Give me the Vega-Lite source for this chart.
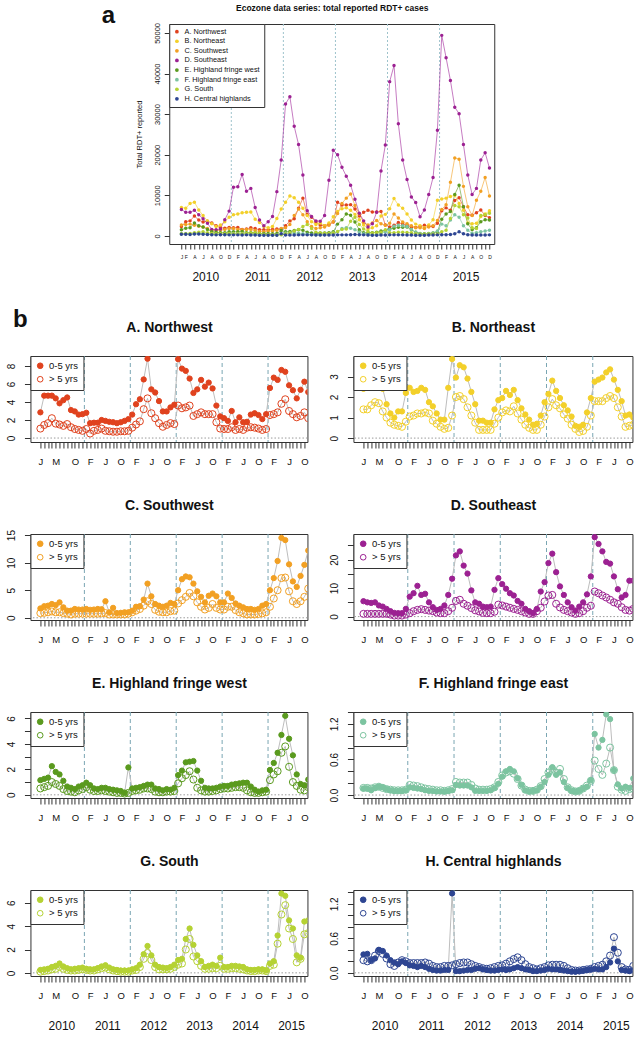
{
"$schema": "https://vega.github.io/schema/vega-lite/v6.json",
"background": "white",
"padding": {"left": 5, "top": 2, "right": 0, "bottom": 0},
"center": true,
"bounds": "full",
"spacing": 23,
"resolve": {"scale": {"x": "independent", "y": "independent", "color": "independent", "fill": "independent", "size": "independent", "stroke": "independent"}, "legend": {"color": "independent", "fill": "independent"}},
"config": {
 "font": "Liberation Sans",
 "view": {"stroke": "#333", "strokeWidth": 1},
 "axis": {"grid": false, "domain": false, "tickColor": "#333", "labelColor": "#111", "titleColor": "#111", "titleFontWeight": "normal", "labelFont": "Liberation Sans", "titleFont": "Liberation Sans"},
 "legend": {"labelFont": "Liberation Sans", "labelColor": "#111"}
},
"datasets": {
"top": [
{"z":"A","i":0,"v":2300},{"z":"A","i":1,"v":3500},{"z":"A","i":2,"v":3700},{"z":"A","i":3,"v":4900},{"z":"A","i":4,"v":3900},{"z":"A","i":5,"v":3400},{"z":"A","i":6,"v":3600},{"z":"A","i":7,"v":3200},{"z":"A","i":8,"v":2500},{"z":"A","i":9,"v":2000},{"z":"A","i":10,"v":1900},{"z":"A","i":11,"v":2100},
{"z":"A","i":12,"v":2000},{"z":"A","i":13,"v":2100},{"z":"A","i":14,"v":1600},{"z":"A","i":15,"v":1700},{"z":"A","i":16,"v":2000},{"z":"A","i":17,"v":1800},{"z":"A","i":18,"v":1500},{"z":"A","i":19,"v":1500},{"z":"A","i":20,"v":1500},{"z":"A","i":21,"v":1600},{"z":"A","i":22,"v":1700},{"z":"A","i":23,"v":1700},
{"z":"A","i":24,"v":2500},{"z":"A","i":25,"v":3700},{"z":"A","i":26,"v":4200},{"z":"A","i":27,"v":6800},{"z":"A","i":28,"v":9300},{"z":"A","i":29,"v":5300},{"z":"A","i":30,"v":4600},{"z":"A","i":31,"v":3400},{"z":"A","i":32,"v":2600},{"z":"A","i":33,"v":2500},{"z":"A","i":34,"v":2800},{"z":"A","i":35,"v":3400},
{"z":"A","i":36,"v":8300},{"z":"A","i":37,"v":7600},{"z":"A","i":38,"v":7600},{"z":"A","i":39,"v":7700},{"z":"A","i":40,"v":6600},{"z":"A","i":41,"v":4900},{"z":"A","i":42,"v":5800},{"z":"A","i":43,"v":6300},{"z":"A","i":44,"v":5900},{"z":"A","i":45,"v":5900},{"z":"A","i":46,"v":6000},{"z":"A","i":47,"v":2700},
{"z":"A","i":48,"v":2200},{"z":"A","i":49,"v":2600},{"z":"A","i":50,"v":3300},{"z":"A","i":51,"v":2900},{"z":"A","i":52,"v":2600},{"z":"A","i":53,"v":2200},{"z":"A","i":54,"v":2100},{"z":"A","i":55,"v":2300},{"z":"A","i":56,"v":2600},{"z":"A","i":57,"v":2400},{"z":"A","i":58,"v":2300},{"z":"A","i":59,"v":3100},
{"z":"A","i":60,"v":6200},{"z":"A","i":61,"v":6900},{"z":"A","i":62,"v":6300},{"z":"A","i":63,"v":8700},{"z":"A","i":64,"v":9400},{"z":"A","i":65,"v":7200},{"z":"A","i":66,"v":5200},{"z":"A","i":67,"v":5100},{"z":"A","i":68,"v":5700},{"z":"A","i":69,"v":6400},{"z":"A","i":70,"v":5000},{"z":"A","i":71,"v":4500},
{"z":"B","i":0,"v":7000},{"z":"B","i":1,"v":6800},{"z":"B","i":2,"v":8000},{"z":"B","i":3,"v":8300},{"z":"B","i":4,"v":6400},{"z":"B","i":5,"v":5000},{"z":"B","i":6,"v":3700},{"z":"B","i":7,"v":3000},{"z":"B","i":8,"v":2300},{"z":"B","i":9,"v":2700},{"z":"B","i":10,"v":3500},{"z":"B","i":11,"v":4600},
{"z":"B","i":12,"v":5200},{"z":"B","i":13,"v":5400},{"z":"B","i":14,"v":5700},{"z":"B","i":15,"v":5800},{"z":"B","i":16,"v":5900},{"z":"B","i":17,"v":4100},{"z":"B","i":18,"v":3300},{"z":"B","i":19,"v":2300},{"z":"B","i":20,"v":2000},{"z":"B","i":21,"v":2300},{"z":"B","i":22,"v":4300},{"z":"B","i":23,"v":6600},
{"z":"B","i":24,"v":8300},{"z":"B","i":25,"v":9800},{"z":"B","i":26,"v":9400},{"z":"B","i":27,"v":8300},{"z":"B","i":28,"v":6800},{"z":"B","i":29,"v":5000},{"z":"B","i":30,"v":3500},{"z":"B","i":31,"v":2800},{"z":"B","i":32,"v":3200},{"z":"B","i":33,"v":2500},{"z":"B","i":34,"v":3200},{"z":"B","i":35,"v":4700},
{"z":"B","i":36,"v":6000},{"z":"B","i":37,"v":6700},{"z":"B","i":38,"v":6900},{"z":"B","i":39,"v":6300},{"z":"B","i":40,"v":5300},{"z":"B","i":41,"v":4000},{"z":"B","i":42,"v":2700},{"z":"B","i":43,"v":1700},{"z":"B","i":44,"v":2000},{"z":"B","i":45,"v":2500},{"z":"B","i":46,"v":4900},{"z":"B","i":47,"v":5300},
{"z":"B","i":48,"v":6700},{"z":"B","i":49,"v":9200},{"z":"B","i":50,"v":7600},{"z":"B","i":51,"v":6800},{"z":"B","i":52,"v":5400},{"z":"B","i":53,"v":3900},{"z":"B","i":54,"v":2900},{"z":"B","i":55,"v":2500},{"z":"B","i":56,"v":2000},{"z":"B","i":57,"v":2700},{"z":"B","i":58,"v":4000},{"z":"B","i":59,"v":8800},
{"z":"B","i":60,"v":9100},{"z":"B","i":61,"v":9300},{"z":"B","i":62,"v":9700},{"z":"B","i":63,"v":10000},{"z":"B","i":64,"v":8000},{"z":"B","i":65,"v":6300},{"z":"B","i":66,"v":3200},{"z":"B","i":67,"v":3000},{"z":"B","i":68,"v":3100},{"z":"B","i":69,"v":4800},{"z":"B","i":70,"v":5400},{"z":"B","i":71,"v":6200},
{"z":"C","i":0,"v":2700},{"z":"C","i":1,"v":2800},{"z":"C","i":2,"v":2900},{"z":"C","i":3,"v":2600},{"z":"C","i":4,"v":2400},{"z":"C","i":5,"v":2200},{"z":"C","i":6,"v":1800},{"z":"C","i":7,"v":1400},{"z":"C","i":8,"v":1400},{"z":"C","i":9,"v":1400},{"z":"C","i":10,"v":1600},{"z":"C","i":11,"v":1800},
{"z":"C","i":12,"v":1800},{"z":"C","i":13,"v":1600},{"z":"C","i":14,"v":1500},{"z":"C","i":15,"v":1600},{"z":"C","i":16,"v":1600},{"z":"C","i":17,"v":1300},{"z":"C","i":18,"v":1100},{"z":"C","i":19,"v":1000},{"z":"C","i":20,"v":1200},{"z":"C","i":21,"v":1200},{"z":"C","i":22,"v":1400},{"z":"C","i":23,"v":1800},
{"z":"C","i":24,"v":2000},{"z":"C","i":25,"v":2800},{"z":"C","i":26,"v":5000},{"z":"C","i":27,"v":6600},{"z":"C","i":28,"v":5200},{"z":"C","i":29,"v":3500},{"z":"C","i":30,"v":2300},{"z":"C","i":31,"v":1800},{"z":"C","i":32,"v":2000},{"z":"C","i":33,"v":2200},{"z":"C","i":34,"v":2600},{"z":"C","i":35,"v":3500},
{"z":"C","i":36,"v":5500},{"z":"C","i":37,"v":8000},{"z":"C","i":38,"v":9300},{"z":"C","i":39,"v":10300},{"z":"C","i":40,"v":7500},{"z":"C","i":41,"v":5400},{"z":"C","i":42,"v":3300},{"z":"C","i":43,"v":2700},{"z":"C","i":44,"v":3200},{"z":"C","i":45,"v":3800},{"z":"C","i":46,"v":3000},{"z":"C","i":47,"v":2600},
{"z":"C","i":48,"v":3100},{"z":"C","i":49,"v":5400},{"z":"C","i":50,"v":4400},{"z":"C","i":51,"v":3400},{"z":"C","i":52,"v":3000},{"z":"C","i":53,"v":2500},{"z":"C","i":54,"v":2000},{"z":"C","i":55,"v":2000},{"z":"C","i":56,"v":1800},{"z":"C","i":57,"v":2200},{"z":"C","i":58,"v":2500},{"z":"C","i":59,"v":3800},
{"z":"C","i":60,"v":6500},{"z":"C","i":61,"v":7700},{"z":"C","i":62,"v":13200},{"z":"C","i":63,"v":19200},{"z":"C","i":64,"v":18900},{"z":"C","i":65,"v":12200},{"z":"C","i":66,"v":7200},{"z":"C","i":67,"v":5000},{"z":"C","i":68,"v":8800},{"z":"C","i":69,"v":11000},{"z":"C","i":70,"v":14400},{"z":"C","i":71,"v":9800},
{"z":"D","i":0,"v":6500},{"z":"D","i":1,"v":5800},{"z":"D","i":2,"v":5800},{"z":"D","i":3,"v":6300},{"z":"D","i":4,"v":5200},{"z":"D","i":5,"v":4200},{"z":"D","i":6,"v":3100},{"z":"D","i":7,"v":1600},{"z":"D","i":8,"v":1500},{"z":"D","i":9,"v":1700},{"z":"D","i":10,"v":4000},{"z":"D","i":11,"v":6100},
{"z":"D","i":12,"v":12000},{"z":"D","i":13,"v":12100},{"z":"D","i":14,"v":15100},{"z":"D","i":15,"v":11000},{"z":"D","i":16,"v":11700},{"z":"D","i":17,"v":7000},{"z":"D","i":18,"v":3900},{"z":"D","i":19,"v":2500},{"z":"D","i":20,"v":3500},{"z":"D","i":21,"v":4800},{"z":"D","i":22,"v":10900},{"z":"D","i":23,"v":18700},
{"z":"D","i":24,"v":32500},{"z":"D","i":25,"v":34300},{"z":"D","i":26,"v":27000},{"z":"D","i":27,"v":22500},{"z":"D","i":28,"v":15000},{"z":"D","i":29,"v":6200},{"z":"D","i":30,"v":4800},{"z":"D","i":31,"v":3700},{"z":"D","i":32,"v":3600},{"z":"D","i":33,"v":5000},{"z":"D","i":34,"v":13700},{"z":"D","i":35,"v":21100},
{"z":"D","i":36,"v":20000},{"z":"D","i":37,"v":16900},{"z":"D","i":38,"v":14700},{"z":"D","i":39,"v":12500},{"z":"D","i":40,"v":9000},{"z":"D","i":41,"v":5600},{"z":"D","i":42,"v":3700},{"z":"D","i":43,"v":2200},{"z":"D","i":44,"v":3000},{"z":"D","i":45,"v":5800},{"z":"D","i":46,"v":16000},{"z":"D","i":47,"v":22400},
{"z":"D","i":48,"v":38000},{"z":"D","i":49,"v":42000},{"z":"D","i":50,"v":27600},{"z":"D","i":51,"v":18700},{"z":"D","i":52,"v":13900},{"z":"D","i":53,"v":9600},{"z":"D","i":54,"v":8200},{"z":"D","i":55,"v":4700},{"z":"D","i":56,"v":6400},{"z":"D","i":57,"v":10200},{"z":"D","i":58,"v":14400},{"z":"D","i":59,"v":26000},
{"z":"D","i":60,"v":49400},{"z":"D","i":61,"v":43900},{"z":"D","i":62,"v":38300},{"z":"D","i":63,"v":31700},{"z":"D","i":64,"v":30100},{"z":"D","i":65,"v":22500},{"z":"D","i":66,"v":15000},{"z":"D","i":67,"v":10200},{"z":"D","i":68,"v":11700},{"z":"D","i":69,"v":18700},{"z":"D","i":70,"v":20500},{"z":"D","i":71,"v":16700},
{"z":"E","i":0,"v":1500},{"z":"E","i":1,"v":1900},{"z":"E","i":2,"v":2000},{"z":"E","i":3,"v":3200},{"z":"E","i":4,"v":2500},{"z":"E","i":5,"v":2200},{"z":"E","i":6,"v":1600},{"z":"E","i":7,"v":1000},{"z":"E","i":8,"v":900},{"z":"E","i":9,"v":800},{"z":"E","i":10,"v":800},{"z":"E","i":11,"v":1000},
{"z":"E","i":12,"v":1000},{"z":"E","i":13,"v":1000},{"z":"E","i":14,"v":1100},{"z":"E","i":15,"v":800},{"z":"E","i":16,"v":800},{"z":"E","i":17,"v":700},{"z":"E","i":18,"v":600},{"z":"E","i":19,"v":600},{"z":"E","i":20,"v":600},{"z":"E","i":21,"v":500},{"z":"E","i":22,"v":600},{"z":"E","i":23,"v":1300},
{"z":"E","i":24,"v":1000},{"z":"E","i":25,"v":1100},{"z":"E","i":26,"v":1300},{"z":"E","i":27,"v":1500},{"z":"E","i":28,"v":1400},{"z":"E","i":29,"v":900},{"z":"E","i":30,"v":700},{"z":"E","i":31,"v":600},{"z":"E","i":32,"v":700},{"z":"E","i":33,"v":700},{"z":"E","i":34,"v":800},{"z":"E","i":35,"v":1000},
{"z":"E","i":36,"v":2900},{"z":"E","i":37,"v":4000},{"z":"E","i":38,"v":5400},{"z":"E","i":39,"v":5100},{"z":"E","i":40,"v":3400},{"z":"E","i":41,"v":1500},{"z":"E","i":42,"v":800},{"z":"E","i":43,"v":700},{"z":"E","i":44,"v":800},{"z":"E","i":45,"v":900},{"z":"E","i":46,"v":1200},{"z":"E","i":47,"v":1300},
{"z":"E","i":48,"v":1700},{"z":"E","i":49,"v":1900},{"z":"E","i":50,"v":2100},{"z":"E","i":51,"v":2100},{"z":"E","i":52,"v":2200},{"z":"E","i":53,"v":1500},{"z":"E","i":54,"v":900},{"z":"E","i":55,"v":600},{"z":"E","i":56,"v":500},{"z":"E","i":57,"v":600},{"z":"E","i":58,"v":700},{"z":"E","i":59,"v":1000},
{"z":"E","i":60,"v":4100},{"z":"E","i":61,"v":5400},{"z":"E","i":62,"v":6000},{"z":"E","i":63,"v":10200},{"z":"E","i":64,"v":12500},{"z":"E","i":65,"v":7200},{"z":"E","i":66,"v":3000},{"z":"E","i":67,"v":1500},{"z":"E","i":68,"v":2000},{"z":"E","i":69,"v":3500},{"z":"E","i":70,"v":4000},{"z":"E","i":71,"v":3900},
{"z":"F","i":0,"v":500},{"z":"F","i":1,"v":500},{"z":"F","i":2,"v":450},{"z":"F","i":3,"v":550},{"z":"F","i":4,"v":600},{"z":"F","i":5,"v":550},{"z":"F","i":6,"v":450},{"z":"F","i":7,"v":400},{"z":"F","i":8,"v":350},{"z":"F","i":9,"v":350},{"z":"F","i":10,"v":350},{"z":"F","i":11,"v":400},
{"z":"F","i":12,"v":600},{"z":"F","i":13,"v":550},{"z":"F","i":14,"v":500},{"z":"F","i":15,"v":450},{"z":"F","i":16,"v":400},{"z":"F","i":17,"v":350},{"z":"F","i":18,"v":300},{"z":"F","i":19,"v":300},{"z":"F","i":20,"v":300},{"z":"F","i":21,"v":300},{"z":"F","i":22,"v":300},{"z":"F","i":23,"v":350},
{"z":"F","i":24,"v":700},{"z":"F","i":25,"v":700},{"z":"F","i":26,"v":700},{"z":"F","i":27,"v":650},{"z":"F","i":28,"v":550},{"z":"F","i":29,"v":400},{"z":"F","i":30,"v":300},{"z":"F","i":31,"v":300},{"z":"F","i":32,"v":300},{"z":"F","i":33,"v":350},{"z":"F","i":34,"v":450},{"z":"F","i":35,"v":700},
{"z":"F","i":36,"v":1000},{"z":"F","i":37,"v":1800},{"z":"F","i":38,"v":2000},{"z":"F","i":39,"v":1900},{"z":"F","i":40,"v":1500},{"z":"F","i":41,"v":900},{"z":"F","i":42,"v":500},{"z":"F","i":43,"v":300},{"z":"F","i":44,"v":300},{"z":"F","i":45,"v":350},{"z":"F","i":46,"v":600},{"z":"F","i":47,"v":1000},
{"z":"F","i":48,"v":1500},{"z":"F","i":49,"v":2400},{"z":"F","i":50,"v":2600},{"z":"F","i":51,"v":2500},{"z":"F","i":52,"v":2300},{"z":"F","i":53,"v":1600},{"z":"F","i":54,"v":900},{"z":"F","i":55,"v":500},{"z":"F","i":56,"v":400},{"z":"F","i":57,"v":500},{"z":"F","i":58,"v":700},{"z":"F","i":59,"v":1200},
{"z":"F","i":60,"v":2900},{"z":"F","i":61,"v":2500},{"z":"F","i":62,"v":3900},{"z":"F","i":63,"v":5200},{"z":"F","i":64,"v":4600},{"z":"F","i":65,"v":2500},{"z":"F","i":66,"v":1400},{"z":"F","i":67,"v":600},{"z":"F","i":68,"v":800},{"z":"F","i":69,"v":1000},{"z":"F","i":70,"v":1200},{"z":"F","i":71,"v":1400},
{"z":"G","i":0,"v":500},{"z":"G","i":1,"v":550},{"z":"G","i":2,"v":600},{"z":"G","i":3,"v":800},{"z":"G","i":4,"v":900},{"z":"G","i":5,"v":1000},{"z":"G","i":6,"v":800},{"z":"G","i":7,"v":600},{"z":"G","i":8,"v":500},{"z":"G","i":9,"v":500},{"z":"G","i":10,"v":550},{"z":"G","i":11,"v":600},
{"z":"G","i":12,"v":550},{"z":"G","i":13,"v":500},{"z":"G","i":14,"v":500},{"z":"G","i":15,"v":600},{"z":"G","i":16,"v":700},{"z":"G","i":17,"v":800},{"z":"G","i":18,"v":600},{"z":"G","i":19,"v":400},{"z":"G","i":20,"v":350},{"z":"G","i":21,"v":300},{"z":"G","i":22,"v":300},{"z":"G","i":23,"v":300},
{"z":"G","i":24,"v":500},{"z":"G","i":25,"v":700},{"z":"G","i":26,"v":1200},{"z":"G","i":27,"v":1600},{"z":"G","i":28,"v":2300},{"z":"G","i":29,"v":2800},{"z":"G","i":30,"v":1800},{"z":"G","i":31,"v":900},{"z":"G","i":32,"v":700},{"z":"G","i":33,"v":650},{"z":"G","i":34,"v":600},{"z":"G","i":35,"v":700},
{"z":"G","i":36,"v":1100},{"z":"G","i":37,"v":1600},{"z":"G","i":38,"v":1700},{"z":"G","i":39,"v":3600},{"z":"G","i":40,"v":4600},{"z":"G","i":41,"v":2800},{"z":"G","i":42,"v":1700},{"z":"G","i":43,"v":1100},{"z":"G","i":44,"v":700},{"z":"G","i":45,"v":800},{"z":"G","i":46,"v":900},{"z":"G","i":47,"v":1500},
{"z":"G","i":48,"v":800},{"z":"G","i":49,"v":800},{"z":"G","i":50,"v":900},{"z":"G","i":51,"v":900},{"z":"G","i":52,"v":850},{"z":"G","i":53,"v":750},{"z":"G","i":54,"v":500},{"z":"G","i":55,"v":400},{"z":"G","i":56,"v":400},{"z":"G","i":57,"v":450},{"z":"G","i":58,"v":450},{"z":"G","i":59,"v":400},
{"z":"G","i":60,"v":1000},{"z":"G","i":61,"v":1400},{"z":"G","i":62,"v":4300},{"z":"G","i":63,"v":7500},{"z":"G","i":64,"v":7200},{"z":"G","i":65,"v":5200},{"z":"G","i":66,"v":4400},{"z":"G","i":67,"v":2000},{"z":"G","i":68,"v":1800},{"z":"G","i":69,"v":5000},{"z":"G","i":70,"v":5200},{"z":"G","i":71,"v":5600},
{"z":"H","i":0,"v":400},{"z":"H","i":1,"v":400},{"z":"H","i":2,"v":350},{"z":"H","i":3,"v":450},{"z":"H","i":4,"v":450},{"z":"H","i":5,"v":400},{"z":"H","i":6,"v":350},{"z":"H","i":7,"v":300},{"z":"H","i":8,"v":250},{"z":"H","i":9,"v":300},{"z":"H","i":10,"v":300},{"z":"H","i":11,"v":250},
{"z":"H","i":12,"v":250},{"z":"H","i":13,"v":250},{"z":"H","i":14,"v":200},{"z":"H","i":15,"v":250},{"z":"H","i":16,"v":200},{"z":"H","i":17,"v":200},{"z":"H","i":18,"v":150},{"z":"H","i":19,"v":150},{"z":"H","i":20,"v":150},{"z":"H","i":21,"v":150},{"z":"H","i":22,"v":150},{"z":"H","i":23,"v":500},
{"z":"H","i":24,"v":200},{"z":"H","i":25,"v":200},{"z":"H","i":26,"v":200},{"z":"H","i":27,"v":250},{"z":"H","i":28,"v":250},{"z":"H","i":29,"v":250},{"z":"H","i":30,"v":250},{"z":"H","i":31,"v":200},{"z":"H","i":32,"v":200},{"z":"H","i":33,"v":200},{"z":"H","i":34,"v":200},{"z":"H","i":35,"v":200},
{"z":"H","i":36,"v":250},{"z":"H","i":37,"v":250},{"z":"H","i":38,"v":250},{"z":"H","i":39,"v":300},{"z":"H","i":40,"v":350},{"z":"H","i":41,"v":300},{"z":"H","i":42,"v":250},{"z":"H","i":43,"v":200},{"z":"H","i":44,"v":150},{"z":"H","i":45,"v":150},{"z":"H","i":46,"v":200},{"z":"H","i":47,"v":200},
{"z":"H","i":48,"v":250},{"z":"H","i":49,"v":250},{"z":"H","i":50,"v":250},{"z":"H","i":51,"v":250},{"z":"H","i":52,"v":200},{"z":"H","i":53,"v":200},{"z":"H","i":54,"v":150},{"z":"H","i":55,"v":150},{"z":"H","i":56,"v":150},{"z":"H","i":57,"v":200},{"z":"H","i":58,"v":200},{"z":"H","i":59,"v":250},
{"z":"H","i":60,"v":300},{"z":"H","i":61,"v":300},{"z":"H","i":62,"v":350},{"z":"H","i":63,"v":500},{"z":"H","i":64,"v":1000},{"z":"H","i":65,"v":500},{"z":"H","i":66,"v":300},{"z":"H","i":67,"v":200},{"z":"H","i":68,"v":200},{"z":"H","i":69,"v":200},{"z":"H","i":70,"v":200},{"z":"H","i":71,"v":250}
],
"pA": [
{"g":"k","i":0,"v":2.85},{"g":"k","i":1,"v":4.7},{"g":"k","i":2,"v":4.7},{"g":"k","i":3,"v":4.7},{"g":"k","i":4,"v":4.4},{"g":"k","i":5,"v":3.85},{"g":"k","i":6,"v":4.2},{"g":"k","i":7,"v":4.5},{"g":"k","i":8,"v":3.1},{"g":"k","i":9,"v":2.95},{"g":"k","i":10,"v":2.6},{"g":"k","i":11,"v":2.65},
{"g":"k","i":12,"v":2.8},{"g":"k","i":13,"v":1.65},{"g":"k","i":14,"v":1.7},{"g":"k","i":15,"v":1.7},{"g":"k","i":16,"v":2.0},{"g":"k","i":17,"v":1.9},{"g":"k","i":18,"v":1.8},{"g":"k","i":19,"v":1.75},{"g":"k","i":20,"v":1.65},{"g":"k","i":21,"v":1.75},{"g":"k","i":22,"v":1.9},{"g":"k","i":23,"v":2.1},
{"g":"k","i":24,"v":2.6},{"g":"k","i":25,"v":3.75},{"g":"k","i":26,"v":4.3},{"g":"k","i":27,"v":6.5},{"g":"k","i":28,"v":8.8},{"g":"k","i":29,"v":5.4},{"g":"k","i":30,"v":5.05},{"g":"k","i":31,"v":4.1},{"g":"k","i":32,"v":2.95},{"g":"k","i":33,"v":2.95},{"g":"k","i":34,"v":3.4},{"g":"k","i":35,"v":3.7},
{"g":"k","i":36,"v":8.75},{"g":"k","i":37,"v":7.7},{"g":"k","i":38,"v":7.45},{"g":"k","i":39,"v":6.6},{"g":"k","i":40,"v":5.0},{"g":"k","i":41,"v":5.4},{"g":"k","i":42,"v":6.45},{"g":"k","i":43,"v":5.7},{"g":"k","i":44,"v":6.15},{"g":"k","i":45,"v":5.5},{"g":"k","i":46,"v":3.6},{"g":"k","i":47,"v":2.4},
{"g":"k","i":48,"v":2.2},{"g":"k","i":49,"v":1.9},{"g":"k","i":50,"v":3.0},{"g":"k","i":51,"v":1.75},{"g":"k","i":52,"v":2.3},{"g":"k","i":53,"v":1.75},{"g":"k","i":54,"v":1.8},{"g":"k","i":55,"v":2.6},{"g":"k","i":56,"v":2.75},{"g":"k","i":57,"v":2.55},{"g":"k","i":58,"v":2.1},{"g":"k","i":59,"v":2.65},
{"g":"k","i":60,"v":5.55},{"g":"k","i":61,"v":6.7},{"g":"k","i":62,"v":6.45},{"g":"k","i":63,"v":7.55},{"g":"k","i":64,"v":7.35},{"g":"k","i":65,"v":5.85},{"g":"k","i":66,"v":5.3},{"g":"k","i":67,"v":4.4},{"g":"k","i":68,"v":5.35},{"g":"k","i":69,"v":6.25},{"g":"k","i":70,"v":5.1},
{"g":"o","i":0,"v":1.05},{"g":"o","i":1,"v":1.45},{"g":"o","i":2,"v":1.65},{"g":"o","i":3,"v":2.2},{"g":"o","i":4,"v":1.6},{"g":"o","i":5,"v":1.5},{"g":"o","i":6,"v":1.35},{"g":"o","i":7,"v":1.55},{"g":"o","i":8,"v":1.2},{"g":"o","i":9,"v":1.0},{"g":"o","i":10,"v":0.9},{"g":"o","i":11,"v":0.8},
{"g":"o","i":12,"v":1.0},{"g":"o","i":13,"v":0.5},{"g":"o","i":14,"v":0.8},{"g":"o","i":15,"v":0.9},{"g":"o","i":16,"v":1.05},{"g":"o","i":17,"v":0.8},{"g":"o","i":18,"v":0.75},{"g":"o","i":19,"v":0.7},{"g":"o","i":20,"v":0.7},{"g":"o","i":21,"v":0.75},{"g":"o","i":22,"v":0.75},{"g":"o","i":23,"v":0.8},
{"g":"o","i":24,"v":1.15},{"g":"o","i":25,"v":1.5},{"g":"o","i":26,"v":1.85},{"g":"o","i":27,"v":3.2},{"g":"o","i":28,"v":4.4},{"g":"o","i":29,"v":2.75},{"g":"o","i":30,"v":2.2},{"g":"o","i":31,"v":1.65},{"g":"o","i":32,"v":1.25},{"g":"o","i":33,"v":1.45},{"g":"o","i":34,"v":1.65},{"g":"o","i":35,"v":1.55},
{"g":"o","i":36,"v":3.6},{"g":"o","i":37,"v":3.3},{"g":"o","i":38,"v":3.4},{"g":"o","i":39,"v":3.6},{"g":"o","i":40,"v":2.45},{"g":"o","i":41,"v":2.65},{"g":"o","i":42,"v":2.85},{"g":"o","i":43,"v":2.65},{"g":"o","i":44,"v":2.65},{"g":"o","i":45,"v":2.65},{"g":"o","i":46,"v":1.75},{"g":"o","i":47,"v":1.05},
{"g":"o","i":48,"v":1.0},{"g":"o","i":49,"v":1.0},{"g":"o","i":50,"v":1.2},{"g":"o","i":51,"v":0.9},{"g":"o","i":52,"v":1.0},{"g":"o","i":53,"v":0.9},{"g":"o","i":54,"v":1.15},{"g":"o","i":55,"v":1.2},{"g":"o","i":56,"v":1.15},{"g":"o","i":57,"v":1.05},{"g":"o","i":58,"v":0.9},{"g":"o","i":59,"v":1.0},
{"g":"o","i":60,"v":2.55},{"g":"o","i":61,"v":2.65},{"g":"o","i":62,"v":2.85},{"g":"o","i":63,"v":3.8},{"g":"o","i":64,"v":4.3},{"g":"o","i":65,"v":3.0},{"g":"o","i":66,"v":2.65},{"g":"o","i":67,"v":2.3},{"g":"o","i":68,"v":2.45},{"g":"o","i":69,"v":2.85},{"g":"o","i":70,"v":2.2}
],
"pB": [
{"g":"k","i":0,"v":2.4},{"g":"k","i":1,"v":2.5},{"g":"k","i":2,"v":2.8},{"g":"k","i":3,"v":3.0},{"g":"k","i":4,"v":2.9},{"g":"k","i":5,"v":2.4},{"g":"k","i":6,"v":1.65},{"g":"k","i":7,"v":1.2},{"g":"k","i":8,"v":1.0},{"g":"k","i":9,"v":1.3},{"g":"k","i":10,"v":1.3},{"g":"k","i":11,"v":2.2},
{"g":"k","i":12,"v":2.45},{"g":"k","i":13,"v":2.25},{"g":"k","i":14,"v":2.3},{"g":"k","i":15,"v":2.45},{"g":"k","i":16,"v":2.35},{"g":"k","i":17,"v":1.75},{"g":"k","i":18,"v":1.55},{"g":"k","i":19,"v":1.2},{"g":"k","i":20,"v":0.9},{"g":"k","i":21,"v":0.9},{"g":"k","i":22,"v":2.45},{"g":"k","i":23,"v":3.85},
{"g":"k","i":24,"v":2.95},{"g":"k","i":25,"v":3.55},{"g":"k","i":26,"v":3.45},{"g":"k","i":27,"v":2.9},{"g":"k","i":28,"v":2.25},{"g":"k","i":29,"v":1.65},{"g":"k","i":30,"v":0.85},{"g":"k","i":31,"v":0.85},{"g":"k","i":32,"v":0.75},{"g":"k","i":33,"v":0.75},{"g":"k","i":34,"v":1.4},{"g":"k","i":35,"v":1.85},
{"g":"k","i":36,"v":1.95},{"g":"k","i":37,"v":2.3},{"g":"k","i":38,"v":2.1},{"g":"k","i":39,"v":2.35},{"g":"k","i":40,"v":1.85},{"g":"k","i":41,"v":1.45},{"g":"k","i":42,"v":1.15},{"g":"k","i":43,"v":0.9},{"g":"k","i":44,"v":0.65},{"g":"k","i":45,"v":0.7},{"g":"k","i":46,"v":1.1},{"g":"k","i":47,"v":1.75},
{"g":"k","i":48,"v":2.15},{"g":"k","i":49,"v":2.8},{"g":"k","i":50,"v":2.3},{"g":"k","i":51,"v":1.95},{"g":"k","i":52,"v":1.6},{"g":"k","i":53,"v":1.35},{"g":"k","i":54,"v":1.05},{"g":"k","i":55,"v":0.6},{"g":"k","i":56,"v":0.55},{"g":"k","i":57,"v":0.65},{"g":"k","i":58,"v":1.25},{"g":"k","i":59,"v":1.95},
{"g":"k","i":60,"v":2.75},{"g":"k","i":61,"v":2.85},{"g":"k","i":62,"v":2.95},{"g":"k","i":63,"v":3.2},{"g":"k","i":64,"v":3.35},{"g":"k","i":65,"v":2.85},{"g":"k","i":66,"v":2.35},{"g":"k","i":67,"v":1.8},{"g":"k","i":68,"v":1.1},{"g":"k","i":69,"v":1.15},{"g":"k","i":70,"v":1.0},
{"g":"o","i":0,"v":1.4},{"g":"o","i":1,"v":1.4},{"g":"o","i":2,"v":1.6},{"g":"o","i":3,"v":1.75},{"g":"o","i":4,"v":1.7},{"g":"o","i":5,"v":1.3},{"g":"o","i":6,"v":1.0},{"g":"o","i":7,"v":0.75},{"g":"o","i":8,"v":0.65},{"g":"o","i":9,"v":0.6},{"g":"o","i":10,"v":0.55},{"g":"o","i":11,"v":0.8},
{"g":"o","i":12,"v":1.05},{"g":"o","i":13,"v":1.1},{"g":"o","i":14,"v":1.2},{"g":"o","i":15,"v":1.2},{"g":"o","i":16,"v":1.25},{"g":"o","i":17,"v":1.2},{"g":"o","i":18,"v":0.85},{"g":"o","i":19,"v":0.7},{"g":"o","i":20,"v":0.55},{"g":"o","i":21,"v":0.45},{"g":"o","i":22,"v":0.5},{"g":"o","i":23,"v":1.1},
{"g":"o","i":24,"v":2.0},{"g":"o","i":25,"v":2.05},{"g":"o","i":26,"v":1.9},{"g":"o","i":27,"v":1.5},{"g":"o","i":28,"v":1.1},{"g":"o","i":29,"v":0.75},{"g":"o","i":30,"v":0.4},{"g":"o","i":31,"v":0.4},{"g":"o","i":32,"v":0.4},{"g":"o","i":33,"v":0.4},{"g":"o","i":34,"v":0.7},{"g":"o","i":35,"v":1.0},
{"g":"o","i":36,"v":1.25},{"g":"o","i":37,"v":1.35},{"g":"o","i":38,"v":1.3},{"g":"o","i":39,"v":1.55},{"g":"o","i":40,"v":1.2},{"g":"o","i":41,"v":0.9},{"g":"o","i":42,"v":0.65},{"g":"o","i":43,"v":0.5},{"g":"o","i":44,"v":0.4},{"g":"o","i":45,"v":0.4},{"g":"o","i":46,"v":0.65},{"g":"o","i":47,"v":1.05},
{"g":"o","i":48,"v":1.5},{"g":"o","i":49,"v":1.9},{"g":"o","i":50,"v":1.6},{"g":"o","i":51,"v":1.45},{"g":"o","i":52,"v":1.15},{"g":"o","i":53,"v":0.95},{"g":"o","i":54,"v":0.65},{"g":"o","i":55,"v":0.45},{"g":"o","i":56,"v":0.3},{"g":"o","i":57,"v":0.35},{"g":"o","i":58,"v":0.55},{"g":"o","i":59,"v":1.1},
{"g":"o","i":60,"v":1.8},{"g":"o","i":61,"v":1.8},{"g":"o","i":62,"v":1.8},{"g":"o","i":63,"v":1.95},{"g":"o","i":64,"v":2.05},{"g":"o","i":65,"v":1.95},{"g":"o","i":66,"v":1.5},{"g":"o","i":67,"v":1.05},{"g":"o","i":68,"v":0.55},{"g":"o","i":69,"v":0.6},{"g":"o","i":70,"v":0.65}
],
"pC": [
{"g":"k","i":0,"v":1.7},{"g":"k","i":1,"v":2.1},{"g":"k","i":2,"v":2.2},{"g":"k","i":3,"v":2.5},{"g":"k","i":4,"v":2.3},{"g":"k","i":5,"v":2.8},{"g":"k","i":6,"v":1.9},{"g":"k","i":7,"v":1.3},{"g":"k","i":8,"v":1.3},{"g":"k","i":9,"v":1.6},{"g":"k","i":10,"v":1.5},{"g":"k","i":11,"v":1.5},
{"g":"k","i":12,"v":1.6},{"g":"k","i":13,"v":1.45},{"g":"k","i":14,"v":1.5},{"g":"k","i":15,"v":1.6},{"g":"k","i":16,"v":1.55},{"g":"k","i":17,"v":3.0},{"g":"k","i":18,"v":1.0},{"g":"k","i":19,"v":1.8},{"g":"k","i":20,"v":0.85},{"g":"k","i":21,"v":0.9},{"g":"k","i":22,"v":1.0},{"g":"k","i":23,"v":1.0},
{"g":"k","i":24,"v":1.3},{"g":"k","i":25,"v":2.0},{"g":"k","i":26,"v":2.1},{"g":"k","i":27,"v":3.3},{"g":"k","i":28,"v":6.2},{"g":"k","i":29,"v":3.9},{"g":"k","i":30,"v":2.5},{"g":"k","i":31,"v":2.2},{"g":"k","i":32,"v":2.0},{"g":"k","i":33,"v":2.2},{"g":"k","i":34,"v":2.7},{"g":"k","i":35,"v":2.5},
{"g":"k","i":36,"v":5.0},{"g":"k","i":37,"v":7.0},{"g":"k","i":38,"v":7.5},{"g":"k","i":39,"v":7.35},{"g":"k","i":40,"v":6.2},{"g":"k","i":41,"v":4.8},{"g":"k","i":42,"v":3.8},{"g":"k","i":43,"v":2.8},{"g":"k","i":44,"v":4.0},{"g":"k","i":45,"v":4.4},{"g":"k","i":46,"v":3.9},{"g":"k","i":47,"v":2.8},
{"g":"k","i":48,"v":2.8},{"g":"k","i":49,"v":4.4},{"g":"k","i":50,"v":3.6},{"g":"k","i":51,"v":2.6},{"g":"k","i":52,"v":2.2},{"g":"k","i":53,"v":1.9},{"g":"k","i":54,"v":1.6},{"g":"k","i":55,"v":1.6},{"g":"k","i":56,"v":1.45},{"g":"k","i":57,"v":1.6},{"g":"k","i":58,"v":2.2},{"g":"k","i":59,"v":2.5},
{"g":"k","i":60,"v":5.0},{"g":"k","i":61,"v":7.2},{"g":"k","i":62,"v":10.3},{"g":"k","i":63,"v":14.5},{"g":"k","i":64,"v":14.1},{"g":"k","i":65,"v":9.7},{"g":"k","i":66,"v":6.6},{"g":"k","i":67,"v":5.6},{"g":"k","i":68,"v":7.6},{"g":"k","i":69,"v":9.6},{"g":"k","i":70,"v":12.2},
{"g":"o","i":0,"v":0.85},{"g":"o","i":1,"v":0.9},{"g":"o","i":2,"v":1.0},{"g":"o","i":3,"v":1.15},{"g":"o","i":4,"v":1.0},{"g":"o","i":5,"v":1.0},{"g":"o","i":6,"v":0.85},{"g":"o","i":7,"v":0.75},{"g":"o","i":8,"v":0.6},{"g":"o","i":9,"v":0.75},{"g":"o","i":10,"v":0.75},{"g":"o","i":11,"v":0.75},
{"g":"o","i":12,"v":0.75},{"g":"o","i":13,"v":0.75},{"g":"o","i":14,"v":0.75},{"g":"o","i":15,"v":0.75},{"g":"o","i":16,"v":0.8},{"g":"o","i":17,"v":0.85},{"g":"o","i":18,"v":0.6},{"g":"o","i":19,"v":0.6},{"g":"o","i":20,"v":0.6},{"g":"o","i":21,"v":0.6},{"g":"o","i":22,"v":0.6},{"g":"o","i":23,"v":0.75},
{"g":"o","i":24,"v":1.0},{"g":"o","i":25,"v":1.3},{"g":"o","i":26,"v":1.6},{"g":"o","i":27,"v":2.2},{"g":"o","i":28,"v":3.0},{"g":"o","i":29,"v":2.5},{"g":"o","i":30,"v":1.45},{"g":"o","i":31,"v":1.1},{"g":"o","i":32,"v":1.0},{"g":"o","i":33,"v":1.0},{"g":"o","i":34,"v":1.2},{"g":"o","i":35,"v":1.3},
{"g":"o","i":36,"v":2.6},{"g":"o","i":37,"v":3.2},{"g":"o","i":38,"v":3.8},{"g":"o","i":39,"v":4.5},{"g":"o","i":40,"v":3.9},{"g":"o","i":41,"v":2.8},{"g":"o","i":42,"v":2.0},{"g":"o","i":43,"v":1.5},{"g":"o","i":44,"v":1.8},{"g":"o","i":45,"v":2.5},{"g":"o","i":46,"v":1.8},{"g":"o","i":47,"v":1.5},
{"g":"o","i":48,"v":1.5},{"g":"o","i":49,"v":2.0},{"g":"o","i":50,"v":2.0},{"g":"o","i":51,"v":1.4},{"g":"o","i":52,"v":1.0},{"g":"o","i":53,"v":0.8},{"g":"o","i":54,"v":0.6},{"g":"o","i":55,"v":0.6},{"g":"o","i":56,"v":0.6},{"g":"o","i":57,"v":0.7},{"g":"o","i":58,"v":0.8},{"g":"o","i":59,"v":1.0},
{"g":"o","i":60,"v":2.0},{"g":"o","i":61,"v":3.5},{"g":"o","i":62,"v":5.0},{"g":"o","i":63,"v":7.2},{"g":"o","i":64,"v":7.3},{"g":"o","i":65,"v":4.8},{"g":"o","i":66,"v":3.0},{"g":"o","i":67,"v":2.5},{"g":"o","i":68,"v":3.0},{"g":"o","i":69,"v":3.8},{"g":"o","i":70,"v":5.3}
],
"pD": [
{"g":"k","i":0,"v":5.4},{"g":"k","i":1,"v":5.0},{"g":"k","i":2,"v":4.8},{"g":"k","i":3,"v":5.0},{"g":"k","i":4,"v":3.9},{"g":"k","i":5,"v":3.5},{"g":"k","i":6,"v":2.7},{"g":"k","i":7,"v":1.9},{"g":"k","i":8,"v":1.3},{"g":"k","i":9,"v":1.2},{"g":"k","i":10,"v":1.2},{"g":"k","i":11,"v":2.7},
{"g":"k","i":12,"v":7.0},{"g":"k","i":13,"v":8.2},{"g":"k","i":14,"v":10.8},{"g":"k","i":15,"v":7.6},{"g":"k","i":16,"v":8.0},{"g":"k","i":17,"v":5.0},{"g":"k","i":18,"v":3.3},{"g":"k","i":19,"v":2.35},{"g":"k","i":20,"v":2.7},{"g":"k","i":21,"v":3.9},{"g":"k","i":22,"v":7.6},{"g":"k","i":23,"v":13.3},
{"g":"k","i":24,"v":21.5},{"g":"k","i":25,"v":22.9},{"g":"k","i":26,"v":17.9},{"g":"k","i":27,"v":15.1},{"g":"k","i":28,"v":9.2},{"g":"k","i":29,"v":5.0},{"g":"k","i":30,"v":4.5},{"g":"k","i":31,"v":3.5},{"g":"k","i":32,"v":3.3},{"g":"k","i":33,"v":3.5},{"g":"k","i":34,"v":9.4},{"g":"k","i":35,"v":13.5},
{"g":"k","i":36,"v":11.4},{"g":"k","i":37,"v":9.8},{"g":"k","i":38,"v":8.2},{"g":"k","i":39,"v":7.4},{"g":"k","i":40,"v":5.5},{"g":"k","i":41,"v":4.5},{"g":"k","i":42,"v":2.7},{"g":"k","i":43,"v":1.9},{"g":"k","i":44,"v":1.2},{"g":"k","i":45,"v":2.7},{"g":"k","i":46,"v":8.8},{"g":"k","i":47,"v":12.1},
{"g":"k","i":48,"v":18.8},{"g":"k","i":49,"v":22.1},{"g":"k","i":50,"v":15.6},{"g":"k","i":51,"v":10.6},{"g":"k","i":52,"v":7.6},{"g":"k","i":53,"v":5.0},{"g":"k","i":54,"v":3.3},{"g":"k","i":55,"v":2.1},{"g":"k","i":56,"v":3.5},{"g":"k","i":57,"v":5.0},{"g":"k","i":58,"v":7.8},{"g":"k","i":59,"v":14.1},
{"g":"k","i":60,"v":27.9},{"g":"k","i":61,"v":25.5},{"g":"k","i":62,"v":22.9},{"g":"k","i":63,"v":19.2},{"g":"k","i":64,"v":18.6},{"g":"k","i":65,"v":14.1},{"g":"k","i":66,"v":9.6},{"g":"k","i":67,"v":6.7},{"g":"k","i":68,"v":7.6},{"g":"k","i":69,"v":12.6},{"g":"k","i":70,"v":12.6},
{"g":"o","i":0,"v":0.95},{"g":"o","i":1,"v":0.95},{"g":"o","i":2,"v":0.95},{"g":"o","i":3,"v":0.95},{"g":"o","i":4,"v":0.95},{"g":"o","i":5,"v":0.95},{"g":"o","i":6,"v":0.95},{"g":"o","i":7,"v":0.7},{"g":"o","i":8,"v":0.35},{"g":"o","i":9,"v":0.35},{"g":"o","i":10,"v":0.35},{"g":"o","i":11,"v":0.7},
{"g":"o","i":12,"v":1.2},{"g":"o","i":13,"v":1.9},{"g":"o","i":14,"v":2.35},{"g":"o","i":15,"v":2.6},{"g":"o","i":16,"v":2.35},{"g":"o","i":17,"v":2.1},{"g":"o","i":18,"v":1.9},{"g":"o","i":19,"v":1.4},{"g":"o","i":20,"v":1.2},{"g":"o","i":21,"v":1.2},{"g":"o","i":22,"v":1.9},{"g":"o","i":23,"v":3.1},
{"g":"o","i":24,"v":5.5},{"g":"o","i":25,"v":5.9},{"g":"o","i":26,"v":4.5},{"g":"o","i":27,"v":3.8},{"g":"o","i":28,"v":3.0},{"g":"o","i":29,"v":2.2},{"g":"o","i":30,"v":1.8},{"g":"o","i":31,"v":1.3},{"g":"o","i":32,"v":1.2},{"g":"o","i":33,"v":1.2},{"g":"o","i":34,"v":1.7},{"g":"o","i":35,"v":4.2},
{"g":"o","i":36,"v":3.9},{"g":"o","i":37,"v":3.5},{"g":"o","i":38,"v":3.1},{"g":"o","i":39,"v":2.7},{"g":"o","i":40,"v":2.35},{"g":"o","i":41,"v":1.9},{"g":"o","i":42,"v":1.4},{"g":"o","i":43,"v":0.95},{"g":"o","i":44,"v":0.95},{"g":"o","i":45,"v":1.9},{"g":"o","i":46,"v":3.1},{"g":"o","i":47,"v":5.3},
{"g":"o","i":48,"v":7.4},{"g":"o","i":49,"v":7.6},{"g":"o","i":50,"v":4.5},{"g":"o","i":51,"v":3.2},{"g":"o","i":52,"v":2.35},{"g":"o","i":53,"v":1.9},{"g":"o","i":54,"v":1.4},{"g":"o","i":55,"v":0.95},{"g":"o","i":56,"v":1.2},{"g":"o","i":57,"v":1.9},{"g":"o","i":58,"v":3.1},{"g":"o","i":59,"v":3.8},
{"g":"o","i":60,"v":8.8},{"g":"o","i":61,"v":8.2},{"g":"o","i":62,"v":7.4},{"g":"o","i":63,"v":6.7},{"g":"o","i":64,"v":5.9},{"g":"o","i":65,"v":5.0},{"g":"o","i":66,"v":4.5},{"g":"o","i":67,"v":3.3},{"g":"o","i":68,"v":2.35},{"g":"o","i":69,"v":2.1},{"g":"o","i":70,"v":2.7}
],
"pE": [
{"g":"k","i":0,"v":1.15},{"g":"k","i":1,"v":1.25},{"g":"k","i":2,"v":1.35},{"g":"k","i":3,"v":2.25},{"g":"k","i":4,"v":1.8},{"g":"k","i":5,"v":1.6},{"g":"k","i":6,"v":1.1},{"g":"k","i":7,"v":0.65},{"g":"k","i":8,"v":0.55},{"g":"k","i":9,"v":0.45},{"g":"k","i":10,"v":0.65},{"g":"k","i":11,"v":0.75},
{"g":"k","i":12,"v":0.95},{"g":"k","i":13,"v":0.75},{"g":"k","i":14,"v":0.5},{"g":"k","i":15,"v":0.45},{"g":"k","i":16,"v":0.55},{"g":"k","i":17,"v":0.55},{"g":"k","i":18,"v":0.45},{"g":"k","i":19,"v":0.4},{"g":"k","i":20,"v":0.35},{"g":"k","i":21,"v":0.3},{"g":"k","i":22,"v":0.15},{"g":"k","i":23,"v":2.15},
{"g":"k","i":24,"v":0.5},{"g":"k","i":25,"v":0.55},{"g":"k","i":26,"v":0.6},{"g":"k","i":27,"v":0.7},{"g":"k","i":28,"v":0.8},{"g":"k","i":29,"v":0.8},{"g":"k","i":30,"v":0.5},{"g":"k","i":31,"v":0.45},{"g":"k","i":32,"v":0.35},{"g":"k","i":33,"v":0.45},{"g":"k","i":34,"v":0.4},{"g":"k","i":35,"v":0.55},
{"g":"k","i":36,"v":1.55},{"g":"k","i":37,"v":1.9},{"g":"k","i":38,"v":2.55},{"g":"k","i":39,"v":2.6},{"g":"k","i":40,"v":2.65},{"g":"k","i":41,"v":1.9},{"g":"k","i":42,"v":1.1},{"g":"k","i":43,"v":0.55},{"g":"k","i":44,"v":0.5},{"g":"k","i":45,"v":0.5},{"g":"k","i":46,"v":0.55},{"g":"k","i":47,"v":0.65},
{"g":"k","i":48,"v":0.7},{"g":"k","i":49,"v":0.7},{"g":"k","i":50,"v":0.8},{"g":"k","i":51,"v":0.85},{"g":"k","i":52,"v":0.9},{"g":"k","i":53,"v":0.95},{"g":"k","i":54,"v":0.95},{"g":"k","i":55,"v":0.65},{"g":"k","i":56,"v":0.4},{"g":"k","i":57,"v":0.25},{"g":"k","i":58,"v":0.35},{"g":"k","i":59,"v":0.4},
{"g":"k","i":60,"v":1.95},{"g":"k","i":61,"v":2.5},{"g":"k","i":62,"v":3.3},{"g":"k","i":63,"v":4.7},{"g":"k","i":64,"v":6.2},{"g":"k","i":65,"v":4.4},{"g":"k","i":66,"v":3.1},{"g":"k","i":67,"v":1.6},{"g":"k","i":68,"v":0.85},{"g":"k","i":69,"v":0.75},{"g":"k","i":70,"v":1.2},
{"g":"o","i":0,"v":0.5},{"g":"o","i":1,"v":0.6},{"g":"o","i":2,"v":0.7},{"g":"o","i":3,"v":1.0},{"g":"o","i":4,"v":0.85},{"g":"o","i":5,"v":0.7},{"g":"o","i":6,"v":0.45},{"g":"o","i":7,"v":0.3},{"g":"o","i":8,"v":0.25},{"g":"o","i":9,"v":0.2},{"g":"o","i":10,"v":0.35},{"g":"o","i":11,"v":0.45},
{"g":"o","i":12,"v":0.6},{"g":"o","i":13,"v":0.4},{"g":"o","i":14,"v":0.3},{"g":"o","i":15,"v":0.3},{"g":"o","i":16,"v":0.35},{"g":"o","i":17,"v":0.3},{"g":"o","i":18,"v":0.25},{"g":"o","i":19,"v":0.2},{"g":"o","i":20,"v":0.15},{"g":"o","i":21,"v":0.15},{"g":"o","i":22,"v":0.1},{"g":"o","i":23,"v":0.15},
{"g":"o","i":24,"v":0.3},{"g":"o","i":25,"v":0.35},{"g":"o","i":26,"v":0.4},{"g":"o","i":27,"v":0.5},{"g":"o","i":28,"v":0.5},{"g":"o","i":29,"v":0.45},{"g":"o","i":30,"v":0.25},{"g":"o","i":31,"v":0.2},{"g":"o","i":32,"v":0.2},{"g":"o","i":33,"v":0.25},{"g":"o","i":34,"v":0.25},{"g":"o","i":35,"v":0.3},
{"g":"o","i":36,"v":0.9},{"g":"o","i":37,"v":1.3},{"g":"o","i":38,"v":1.55},{"g":"o","i":39,"v":1.85},{"g":"o","i":40,"v":1.2},{"g":"o","i":41,"v":0.55},{"g":"o","i":42,"v":0.35},{"g":"o","i":43,"v":0.25},{"g":"o","i":44,"v":0.25},{"g":"o","i":45,"v":0.3},{"g":"o","i":46,"v":0.35},{"g":"o","i":47,"v":0.45},
{"g":"o","i":48,"v":0.5},{"g":"o","i":49,"v":0.5},{"g":"o","i":50,"v":0.55},{"g":"o","i":51,"v":0.6},{"g":"o","i":52,"v":0.6},{"g":"o","i":53,"v":0.55},{"g":"o","i":54,"v":0.35},{"g":"o","i":55,"v":0.2},{"g":"o","i":56,"v":0.15},{"g":"o","i":57,"v":0.15},{"g":"o","i":58,"v":0.2},{"g":"o","i":59,"v":0.25},
{"g":"o","i":60,"v":1.15},{"g":"o","i":61,"v":1.6},{"g":"o","i":62,"v":1.85},{"g":"o","i":63,"v":3.3},{"g":"o","i":64,"v":3.8},{"g":"o","i":65,"v":2.2},{"g":"o","i":66,"v":1.0},{"g":"o","i":67,"v":0.7},{"g":"o","i":68,"v":0.4},{"g":"o","i":69,"v":0.35},{"g":"o","i":70,"v":0.6}
],
"pF": [
{"g":"k","i":0,"v":0.11},{"g":"k","i":1,"v":0.11},{"g":"k","i":2,"v":0.08},{"g":"k","i":3,"v":0.12},{"g":"k","i":4,"v":0.14},{"g":"k","i":5,"v":0.13},{"g":"k","i":6,"v":0.1},{"g":"k","i":7,"v":0.08},{"g":"k","i":8,"v":0.07},{"g":"k","i":9,"v":0.07},{"g":"k","i":10,"v":0.07},{"g":"k","i":11,"v":0.08},
{"g":"k","i":12,"v":0.13},{"g":"k","i":13,"v":0.12},{"g":"k","i":14,"v":0.11},{"g":"k","i":15,"v":0.1},{"g":"k","i":16,"v":0.08},{"g":"k","i":17,"v":0.07},{"g":"k","i":18,"v":0.07},{"g":"k","i":19,"v":0.06},{"g":"k","i":20,"v":0.06},{"g":"k","i":21,"v":0.06},{"g":"k","i":22,"v":0.07},{"g":"k","i":23,"v":0.08},
{"g":"k","i":24,"v":0.17},{"g":"k","i":25,"v":0.16},{"g":"k","i":26,"v":0.16},{"g":"k","i":27,"v":0.16},{"g":"k","i":28,"v":0.13},{"g":"k","i":29,"v":0.07},{"g":"k","i":30,"v":0.07},{"g":"k","i":31,"v":0.07},{"g":"k","i":32,"v":0.07},{"g":"k","i":33,"v":0.08},{"g":"k","i":34,"v":0.12},{"g":"k","i":35,"v":0.19},
{"g":"k","i":36,"v":0.31},{"g":"k","i":37,"v":0.4},{"g":"k","i":38,"v":0.44},{"g":"k","i":39,"v":0.4},{"g":"k","i":40,"v":0.28},{"g":"k","i":41,"v":0.17},{"g":"k","i":42,"v":0.08},{"g":"k","i":43,"v":0.06},{"g":"k","i":44,"v":0.07},{"g":"k","i":45,"v":0.08},{"g":"k","i":46,"v":0.14},{"g":"k","i":47,"v":0.22},
{"g":"k","i":48,"v":0.34},{"g":"k","i":49,"v":0.47},{"g":"k","i":50,"v":0.34},{"g":"k","i":51,"v":0.38},{"g":"k","i":52,"v":0.22},{"g":"k","i":53,"v":0.12},{"g":"k","i":54,"v":0.07},{"g":"k","i":55,"v":0.06},{"g":"k","i":56,"v":0.07},{"g":"k","i":57,"v":0.11},{"g":"k","i":58,"v":0.14},{"g":"k","i":59,"v":0.25},
{"g":"k","i":60,"v":1.03},{"g":"k","i":61,"v":0.8},{"g":"k","i":62,"v":0.93},{"g":"k","i":63,"v":1.36},{"g":"k","i":64,"v":1.28},{"g":"k","i":65,"v":0.42},{"g":"k","i":66,"v":0.18},{"g":"k","i":67,"v":0.11},{"g":"k","i":68,"v":0.14},{"g":"k","i":69,"v":0.12},{"g":"k","i":70,"v":0.28},
{"g":"o","i":0,"v":0.12},{"g":"o","i":1,"v":0.12},{"g":"o","i":2,"v":0.11},{"g":"o","i":3,"v":0.13},{"g":"o","i":4,"v":0.14},{"g":"o","i":5,"v":0.12},{"g":"o","i":6,"v":0.1},{"g":"o","i":7,"v":0.09},{"g":"o","i":8,"v":0.08},{"g":"o","i":9,"v":0.08},{"g":"o","i":10,"v":0.08},{"g":"o","i":11,"v":0.09},
{"g":"o","i":12,"v":0.17},{"g":"o","i":13,"v":0.16},{"g":"o","i":14,"v":0.15},{"g":"o","i":15,"v":0.13},{"g":"o","i":16,"v":0.11},{"g":"o","i":17,"v":0.1},{"g":"o","i":18,"v":0.09},{"g":"o","i":19,"v":0.08},{"g":"o","i":20,"v":0.08},{"g":"o","i":21,"v":0.07},{"g":"o","i":22,"v":0.08},{"g":"o","i":23,"v":0.1},
{"g":"o","i":24,"v":0.22},{"g":"o","i":25,"v":0.21},{"g":"o","i":26,"v":0.21},{"g":"o","i":27,"v":0.21},{"g":"o","i":28,"v":0.17},{"g":"o","i":29,"v":0.11},{"g":"o","i":30,"v":0.09},{"g":"o","i":31,"v":0.09},{"g":"o","i":32,"v":0.09},{"g":"o","i":33,"v":0.1},{"g":"o","i":34,"v":0.13},{"g":"o","i":35,"v":0.22},
{"g":"o","i":36,"v":0.33},{"g":"o","i":37,"v":0.38},{"g":"o","i":38,"v":0.4},{"g":"o","i":39,"v":0.36},{"g":"o","i":40,"v":0.27},{"g":"o","i":41,"v":0.16},{"g":"o","i":42,"v":0.09},{"g":"o","i":43,"v":0.07},{"g":"o","i":44,"v":0.07},{"g":"o","i":45,"v":0.09},{"g":"o","i":46,"v":0.15},{"g":"o","i":47,"v":0.27},
{"g":"o","i":48,"v":0.38},{"g":"o","i":49,"v":0.44},{"g":"o","i":50,"v":0.38},{"g":"o","i":51,"v":0.44},{"g":"o","i":52,"v":0.27},{"g":"o","i":53,"v":0.13},{"g":"o","i":54,"v":0.08},{"g":"o","i":55,"v":0.06},{"g":"o","i":56,"v":0.07},{"g":"o","i":57,"v":0.11},{"g":"o","i":58,"v":0.16},{"g":"o","i":59,"v":0.24},
{"g":"o","i":60,"v":0.58},{"g":"o","i":61,"v":0.44},{"g":"o","i":62,"v":0.34},{"g":"o","i":63,"v":0.53},{"g":"o","i":64,"v":0.8},{"g":"o","i":65,"v":0.42},{"g":"o","i":66,"v":0.14},{"g":"o","i":67,"v":0.09},{"g":"o","i":68,"v":0.07},{"g":"o","i":69,"v":0.1},{"g":"o","i":70,"v":0.11}
],
"pG": [
{"g":"k","i":0,"v":0.25},{"g":"k","i":1,"v":0.3},{"g":"k","i":2,"v":0.35},{"g":"k","i":3,"v":0.5},{"g":"k","i":4,"v":0.6},{"g":"k","i":5,"v":0.8},{"g":"k","i":6,"v":0.55},{"g":"k","i":7,"v":0.4},{"g":"k","i":8,"v":0.3},{"g":"k","i":9,"v":0.35},{"g":"k","i":10,"v":0.4},{"g":"k","i":11,"v":0.45},
{"g":"k","i":12,"v":0.35},{"g":"k","i":13,"v":0.3},{"g":"k","i":14,"v":0.3},{"g":"k","i":15,"v":0.4},{"g":"k","i":16,"v":0.55},{"g":"k","i":17,"v":0.65},{"g":"k","i":18,"v":0.45},{"g":"k","i":19,"v":0.3},{"g":"k","i":20,"v":0.25},{"g":"k","i":21,"v":0.2},{"g":"k","i":22,"v":0.2},{"g":"k","i":23,"v":0.2},
{"g":"k","i":24,"v":0.3},{"g":"k","i":25,"v":0.4},{"g":"k","i":26,"v":0.7},{"g":"k","i":27,"v":1.6},{"g":"k","i":28,"v":2.3},{"g":"k","i":29,"v":1.5},{"g":"k","i":30,"v":0.7},{"g":"k","i":31,"v":0.5},{"g":"k","i":32,"v":0.45},{"g":"k","i":33,"v":0.4},{"g":"k","i":34,"v":0.5},{"g":"k","i":35,"v":0.7},
{"g":"k","i":36,"v":1.1},{"g":"k","i":37,"v":1.2},{"g":"k","i":38,"v":2.9},{"g":"k","i":39,"v":3.8},{"g":"k","i":40,"v":2.4},{"g":"k","i":41,"v":1.5},{"g":"k","i":42,"v":1.0},{"g":"k","i":43,"v":0.5},{"g":"k","i":44,"v":0.6},{"g":"k","i":45,"v":0.7},{"g":"k","i":46,"v":0.6},{"g":"k","i":47,"v":1.3},
{"g":"k","i":48,"v":0.5},{"g":"k","i":49,"v":0.5},{"g":"k","i":50,"v":0.6},{"g":"k","i":51,"v":0.6},{"g":"k","i":52,"v":0.55},{"g":"k","i":53,"v":0.5},{"g":"k","i":54,"v":0.3},{"g":"k","i":55,"v":0.25},{"g":"k","i":56,"v":0.25},{"g":"k","i":57,"v":0.3},{"g":"k","i":58,"v":0.3},{"g":"k","i":59,"v":0.2},
{"g":"k","i":60,"v":0.8},{"g":"k","i":61,"v":1.0},{"g":"k","i":62,"v":3.2},{"g":"k","i":63,"v":6.8},{"g":"k","i":64,"v":6.6},{"g":"k","i":65,"v":4.5},{"g":"k","i":66,"v":3.8},{"g":"k","i":67,"v":1.5},{"g":"k","i":68,"v":1.3},{"g":"k","i":69,"v":4.4},{"g":"k","i":70,"v":4.5},
{"g":"o","i":0,"v":0.1},{"g":"o","i":1,"v":0.15},{"g":"o","i":2,"v":0.2},{"g":"o","i":3,"v":0.3},{"g":"o","i":4,"v":0.35},{"g":"o","i":5,"v":0.5},{"g":"o","i":6,"v":0.35},{"g":"o","i":7,"v":0.25},{"g":"o","i":8,"v":0.2},{"g":"o","i":9,"v":0.2},{"g":"o","i":10,"v":0.25},{"g":"o","i":11,"v":0.3},
{"g":"o","i":12,"v":0.25},{"g":"o","i":13,"v":0.2},{"g":"o","i":14,"v":0.2},{"g":"o","i":15,"v":0.3},{"g":"o","i":16,"v":0.4},{"g":"o","i":17,"v":0.45},{"g":"o","i":18,"v":0.3},{"g":"o","i":19,"v":0.2},{"g":"o","i":20,"v":0.15},{"g":"o","i":21,"v":0.1},{"g":"o","i":22,"v":0.1},{"g":"o","i":23,"v":0.1},
{"g":"o","i":24,"v":0.2},{"g":"o","i":25,"v":0.25},{"g":"o","i":26,"v":0.5},{"g":"o","i":27,"v":1.2},{"g":"o","i":28,"v":1.7},{"g":"o","i":29,"v":1.1},{"g":"o","i":30,"v":0.5},{"g":"o","i":31,"v":0.3},{"g":"o","i":32,"v":0.3},{"g":"o","i":33,"v":0.3},{"g":"o","i":34,"v":0.35},{"g":"o","i":35,"v":0.5},
{"g":"o","i":36,"v":0.7},{"g":"o","i":37,"v":0.8},{"g":"o","i":38,"v":2.0},{"g":"o","i":39,"v":2.9},{"g":"o","i":40,"v":1.4},{"g":"o","i":41,"v":1.0},{"g":"o","i":42,"v":0.6},{"g":"o","i":43,"v":0.35},{"g":"o","i":44,"v":0.35},{"g":"o","i":45,"v":0.4},{"g":"o","i":46,"v":0.4},{"g":"o","i":47,"v":0.6},
{"g":"o","i":48,"v":0.35},{"g":"o","i":49,"v":0.35},{"g":"o","i":50,"v":0.4},{"g":"o","i":51,"v":0.4},{"g":"o","i":52,"v":0.35},{"g":"o","i":53,"v":0.3},{"g":"o","i":54,"v":0.2},{"g":"o","i":55,"v":0.15},{"g":"o","i":56,"v":0.15},{"g":"o","i":57,"v":0.2},{"g":"o","i":58,"v":0.2},{"g":"o","i":59,"v":0.15},
{"g":"o","i":60,"v":0.6},{"g":"o","i":61,"v":0.7},{"g":"o","i":62,"v":2.5},{"g":"o","i":63,"v":5.0},{"g":"o","i":64,"v":5.8},{"g":"o","i":65,"v":3.8},{"g":"o","i":66,"v":2.9},{"g":"o","i":67,"v":0.9},{"g":"o","i":68,"v":1.2},{"g":"o","i":69,"v":3.3},{"g":"o","i":70,"v":3.4}
],
"pH": [
{"g":"k","i":0,"v":0.32},{"g":"k","i":1,"v":0.33},{"g":"k","i":2,"v":0.22},{"g":"k","i":3,"v":0.25},{"g":"k","i":4,"v":0.4},{"g":"k","i":5,"v":0.38},{"g":"k","i":6,"v":0.3},{"g":"k","i":7,"v":0.22},{"g":"k","i":8,"v":0.18},{"g":"k","i":9,"v":0.15},{"g":"k","i":10,"v":0.2},{"g":"k","i":11,"v":0.17},
{"g":"k","i":12,"v":0.13},{"g":"k","i":13,"v":0.12},{"g":"k","i":14,"v":0.1},{"g":"k","i":15,"v":0.12},{"g":"k","i":16,"v":0.1},{"g":"k","i":17,"v":0.07},{"g":"k","i":18,"v":0.05},{"g":"k","i":19,"v":0.04},{"g":"k","i":20,"v":0.04},{"g":"k","i":21,"v":0.05},{"g":"k","i":22,"v":0.05},{"g":"k","i":23,"v":1.38},
{"g":"k","i":24,"v":0.03},{"g":"k","i":25,"v":0.03},{"g":"k","i":26,"v":0.04},{"g":"k","i":27,"v":0.05},{"g":"k","i":28,"v":0.05},{"g":"k","i":29,"v":0.07},{"g":"k","i":30,"v":0.08},{"g":"k","i":31,"v":0.06},{"g":"k","i":32,"v":0.05},{"g":"k","i":33,"v":0.04},{"g":"k","i":34,"v":0.04},{"g":"k","i":35,"v":0.05},
{"g":"k","i":36,"v":0.06},{"g":"k","i":37,"v":0.05},{"g":"k","i":38,"v":0.06},{"g":"k","i":39,"v":0.08},{"g":"k","i":40,"v":0.1},{"g":"k","i":41,"v":0.08},{"g":"k","i":42,"v":0.06},{"g":"k","i":43,"v":0.05},{"g":"k","i":44,"v":0.03},{"g":"k","i":45,"v":0.03},{"g":"k","i":46,"v":0.04},{"g":"k","i":47,"v":0.05},
{"g":"k","i":48,"v":0.07},{"g":"k","i":49,"v":0.06},{"g":"k","i":50,"v":0.06},{"g":"k","i":51,"v":0.05},{"g":"k","i":52,"v":0.04},{"g":"k","i":53,"v":0.03},{"g":"k","i":54,"v":0.02},{"g":"k","i":55,"v":0.02},{"g":"k","i":56,"v":0.03},{"g":"k","i":57,"v":0.04},{"g":"k","i":58,"v":0.05},{"g":"k","i":59,"v":0.06},
{"g":"k","i":60,"v":0.07},{"g":"k","i":61,"v":0.06},{"g":"k","i":62,"v":0.06},{"g":"k","i":63,"v":0.1},{"g":"k","i":64,"v":0.18},{"g":"k","i":65,"v":0.42},{"g":"k","i":66,"v":0.2},{"g":"k","i":67,"v":0.05},{"g":"k","i":68,"v":0.04},{"g":"k","i":69,"v":0.03},{"g":"k","i":70,"v":0.04},
{"g":"o","i":0,"v":0.22},{"g":"o","i":1,"v":0.2},{"g":"o","i":2,"v":0.22},{"g":"o","i":3,"v":0.3},{"g":"o","i":4,"v":0.38},{"g":"o","i":5,"v":0.33},{"g":"o","i":6,"v":0.25},{"g":"o","i":7,"v":0.15},{"g":"o","i":8,"v":0.12},{"g":"o","i":9,"v":0.18},{"g":"o","i":10,"v":0.22},{"g":"o","i":11,"v":0.2},
{"g":"o","i":12,"v":0.17},{"g":"o","i":13,"v":0.17},{"g":"o","i":14,"v":0.17},{"g":"o","i":15,"v":0.17},{"g":"o","i":16,"v":0.18},{"g":"o","i":17,"v":0.16},{"g":"o","i":18,"v":0.12},{"g":"o","i":19,"v":0.1},{"g":"o","i":20,"v":0.1},{"g":"o","i":21,"v":0.12},{"g":"o","i":22,"v":0.12},{"g":"o","i":23,"v":0.13},
{"g":"o","i":24,"v":0.15},{"g":"o","i":25,"v":0.17},{"g":"o","i":26,"v":0.18},{"g":"o","i":27,"v":0.18},{"g":"o","i":28,"v":0.15},{"g":"o","i":29,"v":0.12},{"g":"o","i":30,"v":0.1},{"g":"o","i":31,"v":0.08},{"g":"o","i":32,"v":0.07},{"g":"o","i":33,"v":0.08},{"g":"o","i":34,"v":0.1},{"g":"o","i":35,"v":0.12},
{"g":"o","i":36,"v":0.13},{"g":"o","i":37,"v":0.16},{"g":"o","i":38,"v":0.2},{"g":"o","i":39,"v":0.24},{"g":"o","i":40,"v":0.27},{"g":"o","i":41,"v":0.22},{"g":"o","i":42,"v":0.15},{"g":"o","i":43,"v":0.1},{"g":"o","i":44,"v":0.08},{"g":"o","i":45,"v":0.06},{"g":"o","i":46,"v":0.08},{"g":"o","i":47,"v":0.1},
{"g":"o","i":48,"v":0.13},{"g":"o","i":49,"v":0.14},{"g":"o","i":50,"v":0.14},{"g":"o","i":51,"v":0.14},{"g":"o","i":52,"v":0.12},{"g":"o","i":53,"v":0.08},{"g":"o","i":54,"v":0.05},{"g":"o","i":55,"v":0.04},{"g":"o","i":56,"v":0.04},{"g":"o","i":57,"v":0.05},{"g":"o","i":58,"v":0.06},{"g":"o","i":59,"v":0.07},
{"g":"o","i":60,"v":0.1},{"g":"o","i":61,"v":0.12},{"g":"o","i":62,"v":0.14},{"g":"o","i":63,"v":0.2},{"g":"o","i":64,"v":0.3},{"g":"o","i":65,"v":0.62},{"g":"o","i":66,"v":0.35},{"g":"o","i":67,"v":0.1},{"g":"o","i":68,"v":0.06},{"g":"o","i":69,"v":0.05},{"g":"o","i":70,"v":0.12}
]
},
"vconcat": [
{
 "width": 325, "height": 220,
 "resolve": {"axis": {"x": "independent", "y": "independent"}},
 "layer": [
  {"data": {"values": [{"b":11.5},{"b":23.5},{"b":35.5},{"b":47.5},{"b":59.5}]},
   "mark": {"type": "rule", "color": "#9ec3cc", "strokeDash": [2, 2], "strokeWidth": 1},
   "encoding": {"x": {"field": "b", "type": "quantitative", "scale": {"domain": [-2.8, 72.1], "nice": false, "zero": false},
     "axis": {"orient": "bottom", "values": [5.5, 17.5, 29.5, 41.5, 53.5, 65.5], "labelExpr": "'' + (2010 + floor(datum.value / 12))", "ticks": false, "tickSize": 0, "labelPadding": 27, "labelFontSize": 12, "labelOverlap": false, "labelFlush": false, "title": null}}}},
  {"data": {"name": "top"},
   "mark": {"type": "line", "strokeWidth": 1, "opacity": 0.6},
   "encoding": {
    "x": {"field": "i", "type": "quantitative", "axis": {"orient": "top", "labels": false, "ticks": false, "domain": false, "title": "Ecozone data series: total reported RDT+ cases", "titleFontSize": 8.5, "titleFontWeight": "bold", "titleX": 162.5, "titleY": -13.5, "titleAlign": "center", "titleBaseline": "alphabetic"}},
    "y": {"field": "v", "type": "quantitative", "axis": {"orient": "right", "labels": false, "ticks": false, "tickSize": 0, "domain": false, "title": "a", "titleAngle": 0, "titleFontSize": 24, "titleFontWeight": "bold", "titleX": -393, "titleY": -2, "titleAlign": "left", "titleBaseline": "alphabetic"}},
    "stroke": {"field": "z", "type": "nominal", "scale": {"domain": ["H","G","F","E","D","C","B","A"], "range": ["#2D4592","#B5D233","#7CC4A0","#5A9A1E","#A0249A","#F2A023","#F3D02A","#E0421E"]}, "legend": null}}},
  {"data": {"name": "top"},
   "mark": {"type": "point", "filled": true, "size": 12, "opacity": 1, "shape": "circle"},
   "encoding": {
    "x": {"field": "i", "type": "quantitative", "scale": {"domain": [-2.8, 72.1], "nice": false, "zero": false},
      "axis": {"orient": "bottom", "values": [0,1,2,3,4,5,6,7,8,9,10,11,12,13,14,15,16,17,18,19,20,21,22,23,24,25,26,27,28,29,30,31,32,33,34,35,36,37,38,39,40,41,42,43,44,45,46,47,48,49,50,51,52,53,54,55,56,57,58,59,60,61,62,63,64,65,66,67,68,69,70,71],
       "labelExpr": "datum.value == 0 || datum.value % 2 == 1 ? substring('JFMAMJJASOND', datum.value % 12, datum.value % 12 + 1) : ''",
       "tickSize": 5, "labelFontSize": 5, "labelPadding": 5, "labelOverlap": false, "labelFlush": false, "labelAngle": 0, "title": null}},
    "y": {"field": "v", "type": "quantitative", "scale": {"domain": [-2000, 52200], "nice": false, "zero": false},
      "axis": {"orient": "left", "values": [0, 10000, 20000, 30000, 40000, 50000], "format": "d", "labelAngle": -90, "labelFontSize": 7.5, "tickSize": 5, "labelPadding": 3, "title": "Total RDT+ reported", "titleFontSize": 7.5, "titlePadding": 10}},
    "color": {"field": "z", "type": "nominal", "scale": {"domain": ["A","B","C","D","E","F","G","H"], "range": ["#E0421E","#F3D02A","#F2A023","#9C2192","#5A9A1E","#7CC4A0","#B5D233","#2D4592"]},
      "legend": {"orient": "top-left", "offset": 0, "title": null, "labelExpr": "['A. Northwest','B. Northeast','C. Southwest','D. Southeast','E. Highland fringe west','F. Highland fringe east','G. South','H. Central highlands'][indexof('ABCDEFGH', datum.label)]", "strokeColor": "#333", "fillColor": "white", "padding": 4, "labelFontSize": 7.3, "symbolSize": 14, "symbolType": "circle", "rowPadding": 1.6, "labelLimit": 200}}}}
 ]
},
{
 "columns": 2,
 "spacing": {"row": 92, "column": 46},
 "bounds": "flush",
 "resolve": {"scale": {"x": "independent", "y": "independent", "fill": "independent", "size": "independent"}, "legend": {"fill": "independent"}},
 "concat": [
 {"width": 277, "height": 86, "resolve": {"axis": {"x": "independent", "y": "independent"}},
  "layer": [
   {"data": {"values": [{"b":11.5},{"b":23.5},{"b":35.5},{"b":47.5},{"b":59.5}]}, "mark": {"type": "rule", "color": "#7aa6b3", "strokeDash": [4, 3]}, "encoding": {"x": {"field": "b", "type": "quantitative", "scale": {"domain": [-2.6, 69.8], "nice": false, "zero": false}, "axis": null}}},
   {"data": {"values": [{}]}, "mark": {"type": "rule", "color": "#999999", "strokeDash": [1.5, 2]}, "encoding": {"y": {"datum": 0, "type": "quantitative", "axis": {"orient": "right", "labels": false, "ticks": false, "domain": false, "title": "b", "titleAngle": 0, "titleFontSize": 24, "titleFontWeight": "bold", "titleX": -295, "titleY": -30, "titleAlign": "left", "titleBaseline": "alphabetic"}}}},
   {"data": {"name": "pA"}, "mark": {"type": "line", "color": "#bdbdbd", "strokeWidth": 1, "clip": true}, "encoding": {"x": {"field": "i", "type": "quantitative", "axis": {"orient": "top", "labels": false, "ticks": false, "domain": false, "title": "A. Northwest", "titleFontSize": 14, "titleFontWeight": "bold", "titleX": 138.5, "titleY": -25, "titleAlign": "center", "titleBaseline": "alphabetic"}}, "y": {"field": "v", "type": "quantitative", "axis": null}, "detail": {"field": "g"}}},
   {"data": {"name": "pA"}, "mark": {"type": "point", "shape": "circle", "clip": true, "stroke": "#E0421E", "strokeWidth": 1, "opacity": 1},
    "encoding": {
     "x": {"field": "i", "type": "quantitative", "scale": {"domain": [-2.6, 69.8], "nice": false, "zero": false}, "axis": {"orient": "bottom", "values": [0,1,2,3,4,5,6,7,8,9,10,11,12,13,14,15,16,17,18,19,20,21,22,23,24,25,26,27,28,29,30,31,32,33,34,35,36,37,38,39,40,41,42,43,44,45,46,47,48,49,50,51,52,53,54,55,56,57,58,59,60,61,62,63,64,65,66,67,68,69], "labelExpr": "indexof([0,4,9,13,17,21,25,29,33,37,41,45,49,53,57,61,65,69], datum.value) >= 0 ? substring('JFMAMJJASOND', datum.value % 12, datum.value % 12 + 1) : ''", "tickSize": 6, "labelFontSize": 9.5, "labelPadding": 8, "labelOverlap": false, "labelFlush": false, "labelAngle": 0, "title": null}},
     "y": {"field": "v", "type": "quantitative", "scale": {"domain": [-0.44, 9.1], "nice": false, "zero": false}, "axis": {"orient": "left", "values": [0, 2, 4, 6, 8], "labelAngle": -90, "labelFontSize": 10, "tickSize": 6, "labelPadding": 8, "title": null}},
     "fill": {"field": "g", "type": "nominal", "scale": {"domain": ["k", "o"], "range": ["#E0421E", "transparent"]}, "legend": {"orient": "top-left", "offset": 0, "title": null, "labelExpr": "datum.label == 'k' ? '0-5 yrs' : '> 5 yrs'", "strokeColor": "#333", "fillColor": "white", "padding": 5, "labelFontSize": 9.5, "symbolSize": 32, "symbolType": "circle", "symbolStrokeColor": "#E0421E", "symbolStrokeWidth": 1, "rowPadding": 2.5}},
     "size": {"field": "g", "type": "ordinal", "scale": {"domain": ["o", "k"], "range": [50, 28]}, "legend": null}}}
  ]},
 {"width": 279, "height": 86, "resolve": {"axis": {"x": "independent", "y": "independent"}},
  "layer": [
   {"data": {"values": [{"b":11.5},{"b":23.5},{"b":35.5},{"b":47.5},{"b":59.5}]}, "mark": {"type": "rule", "color": "#7aa6b3", "strokeDash": [4, 3]}, "encoding": {"x": {"field": "b", "type": "quantitative", "scale": {"domain": [-2.6, 69.8], "nice": false, "zero": false}, "axis": null}}},
   {"data": {"values": [{}]}, "mark": {"type": "rule", "color": "#999999", "strokeDash": [1.5, 2]}, "encoding": {"y": {"datum": 0, "type": "quantitative", "axis": null}}},
   {"data": {"name": "pB"}, "mark": {"type": "line", "color": "#bdbdbd", "strokeWidth": 1, "clip": true}, "encoding": {"x": {"field": "i", "type": "quantitative", "axis": {"orient": "top", "labels": false, "ticks": false, "domain": false, "title": "B. Northeast", "titleFontSize": 14, "titleFontWeight": "bold", "titleX": 139.5, "titleY": -25, "titleAlign": "center", "titleBaseline": "alphabetic"}}, "y": {"field": "v", "type": "quantitative", "axis": null}, "detail": {"field": "g"}}},
   {"data": {"name": "pB"}, "mark": {"type": "point", "shape": "circle", "clip": true, "stroke": "#F3D02A", "strokeWidth": 1, "opacity": 1},
    "encoding": {
     "x": {"field": "i", "type": "quantitative", "scale": {"domain": [-2.6, 69.8], "nice": false, "zero": false}, "axis": {"orient": "bottom", "values": [0,1,2,3,4,5,6,7,8,9,10,11,12,13,14,15,16,17,18,19,20,21,22,23,24,25,26,27,28,29,30,31,32,33,34,35,36,37,38,39,40,41,42,43,44,45,46,47,48,49,50,51,52,53,54,55,56,57,58,59,60,61,62,63,64,65,66,67,68,69], "labelExpr": "indexof([0,4,9,13,17,21,25,29,33,37,41,45,49,53,57,61,65,69], datum.value) >= 0 ? substring('JFMAMJJASOND', datum.value % 12, datum.value % 12 + 1) : ''", "tickSize": 6, "labelFontSize": 9.5, "labelPadding": 8, "labelOverlap": false, "labelFlush": false, "labelAngle": 0, "title": null}},
     "y": {"field": "v", "type": "quantitative", "scale": {"domain": [-0.19, 4.0], "nice": false, "zero": false}, "axis": {"orient": "left", "values": [0, 1, 2, 3], "labelAngle": -90, "labelFontSize": 10, "tickSize": 6, "labelPadding": 8, "title": null}},
     "fill": {"field": "g", "type": "nominal", "scale": {"domain": ["k", "o"], "range": ["#F3D02A", "transparent"]}, "legend": {"orient": "top-left", "offset": 0, "title": null, "labelExpr": "datum.label == 'k' ? '0-5 yrs' : '> 5 yrs'", "strokeColor": "#333", "fillColor": "white", "padding": 5, "labelFontSize": 9.5, "symbolSize": 32, "symbolType": "circle", "symbolStrokeColor": "#F3D02A", "symbolStrokeWidth": 1, "rowPadding": 2.5}},
     "size": {"field": "g", "type": "ordinal", "scale": {"domain": ["o", "k"], "range": [50, 28]}, "legend": null}}}
  ]},
 {"width": 277, "height": 86, "resolve": {"axis": {"x": "independent", "y": "independent"}},
  "layer": [
   {"data": {"values": [{"b":11.5},{"b":23.5},{"b":35.5},{"b":47.5},{"b":59.5}]}, "mark": {"type": "rule", "color": "#7aa6b3", "strokeDash": [4, 3]}, "encoding": {"x": {"field": "b", "type": "quantitative", "scale": {"domain": [-2.6, 69.8], "nice": false, "zero": false}, "axis": null}}},
   {"data": {"values": [{}]}, "mark": {"type": "rule", "color": "#999999", "strokeDash": [1.5, 2]}, "encoding": {"y": {"datum": 0, "type": "quantitative", "axis": null}}},
   {"data": {"name": "pC"}, "mark": {"type": "line", "color": "#bdbdbd", "strokeWidth": 1, "clip": true}, "encoding": {"x": {"field": "i", "type": "quantitative", "axis": {"orient": "top", "labels": false, "ticks": false, "domain": false, "title": "C. Southwest", "titleFontSize": 14, "titleFontWeight": "bold", "titleX": 138.5, "titleY": -25, "titleAlign": "center", "titleBaseline": "alphabetic"}}, "y": {"field": "v", "type": "quantitative", "axis": null}, "detail": {"field": "g"}}},
   {"data": {"name": "pC"}, "mark": {"type": "point", "shape": "circle", "clip": true, "stroke": "#F2A023", "strokeWidth": 1, "opacity": 1},
    "encoding": {
     "x": {"field": "i", "type": "quantitative", "scale": {"domain": [-2.6, 69.8], "nice": false, "zero": false}, "axis": {"orient": "bottom", "values": [0,1,2,3,4,5,6,7,8,9,10,11,12,13,14,15,16,17,18,19,20,21,22,23,24,25,26,27,28,29,30,31,32,33,34,35,36,37,38,39,40,41,42,43,44,45,46,47,48,49,50,51,52,53,54,55,56,57,58,59,60,61,62,63,64,65,66,67,68,69], "labelExpr": "indexof([0,4,9,13,17,21,25,29,33,37,41,45,49,53,57,61,65,69], datum.value) >= 0 ? substring('JFMAMJJASOND', datum.value % 12, datum.value % 12 + 1) : ''", "tickSize": 6, "labelFontSize": 9.5, "labelPadding": 8, "labelOverlap": false, "labelFlush": false, "labelAngle": 0, "title": null}},
     "y": {"field": "v", "type": "quantitative", "scale": {"domain": [-0.4, 15.2], "nice": false, "zero": false}, "axis": {"orient": "left", "values": [0, 5, 10, 15], "labelAngle": -90, "labelFontSize": 10, "tickSize": 6, "labelPadding": 8, "title": null}},
     "fill": {"field": "g", "type": "nominal", "scale": {"domain": ["k", "o"], "range": ["#F2A023", "transparent"]}, "legend": {"orient": "top-left", "offset": 0, "title": null, "labelExpr": "datum.label == 'k' ? '0-5 yrs' : '> 5 yrs'", "strokeColor": "#333", "fillColor": "white", "padding": 5, "labelFontSize": 9.5, "symbolSize": 32, "symbolType": "circle", "symbolStrokeColor": "#F2A023", "symbolStrokeWidth": 1, "rowPadding": 2.5}},
     "size": {"field": "g", "type": "ordinal", "scale": {"domain": ["o", "k"], "range": [50, 28]}, "legend": null}}}
  ]},
 {"width": 279, "height": 86, "resolve": {"axis": {"x": "independent", "y": "independent"}},
  "layer": [
   {"data": {"values": [{"b":11.5},{"b":23.5},{"b":35.5},{"b":47.5},{"b":59.5}]}, "mark": {"type": "rule", "color": "#7aa6b3", "strokeDash": [4, 3]}, "encoding": {"x": {"field": "b", "type": "quantitative", "scale": {"domain": [-2.6, 69.8], "nice": false, "zero": false}, "axis": null}}},
   {"data": {"values": [{}]}, "mark": {"type": "rule", "color": "#999999", "strokeDash": [1.5, 2]}, "encoding": {"y": {"datum": 0, "type": "quantitative", "axis": null}}},
   {"data": {"name": "pD"}, "mark": {"type": "line", "color": "#bdbdbd", "strokeWidth": 1, "clip": true}, "encoding": {"x": {"field": "i", "type": "quantitative", "axis": {"orient": "top", "labels": false, "ticks": false, "domain": false, "title": "D. Southeast", "titleFontSize": 14, "titleFontWeight": "bold", "titleX": 139.5, "titleY": -25, "titleAlign": "center", "titleBaseline": "alphabetic"}}, "y": {"field": "v", "type": "quantitative", "axis": null}, "detail": {"field": "g"}}},
   {"data": {"name": "pD"}, "mark": {"type": "point", "shape": "circle", "clip": true, "stroke": "#9C2192", "strokeWidth": 1, "opacity": 1},
    "encoding": {
     "x": {"field": "i", "type": "quantitative", "scale": {"domain": [-2.6, 69.8], "nice": false, "zero": false}, "axis": {"orient": "bottom", "values": [0,1,2,3,4,5,6,7,8,9,10,11,12,13,14,15,16,17,18,19,20,21,22,23,24,25,26,27,28,29,30,31,32,33,34,35,36,37,38,39,40,41,42,43,44,45,46,47,48,49,50,51,52,53,54,55,56,57,58,59,60,61,62,63,64,65,66,67,68,69], "labelExpr": "indexof([0,4,9,13,17,21,25,29,33,37,41,45,49,53,57,61,65,69], datum.value) >= 0 ? substring('JFMAMJJASOND', datum.value % 12, datum.value % 12 + 1) : ''", "tickSize": 6, "labelFontSize": 9.5, "labelPadding": 8, "labelOverlap": false, "labelFlush": false, "labelAngle": 0, "title": null}},
     "y": {"field": "v", "type": "quantitative", "scale": {"domain": [-1.2, 29], "nice": false, "zero": false}, "axis": {"orient": "left", "values": [0, 5, 10, 15, 20, 25], "labelExpr": "datum.value % 10 == 0 ? datum.label : ''", "labelAngle": -90, "labelFontSize": 10, "tickSize": 6, "labelPadding": 8, "title": null}},
     "fill": {"field": "g", "type": "nominal", "scale": {"domain": ["k", "o"], "range": ["#9C2192", "transparent"]}, "legend": {"orient": "top-left", "offset": 0, "title": null, "labelExpr": "datum.label == 'k' ? '0-5 yrs' : '> 5 yrs'", "strokeColor": "#333", "fillColor": "white", "padding": 5, "labelFontSize": 9.5, "symbolSize": 32, "symbolType": "circle", "symbolStrokeColor": "#9C2192", "symbolStrokeWidth": 1, "rowPadding": 2.5}},
     "size": {"field": "g", "type": "ordinal", "scale": {"domain": ["o", "k"], "range": [50, 28]}, "legend": null}}}
  ]},
 {"width": 277, "height": 86, "resolve": {"axis": {"x": "independent", "y": "independent"}},
  "layer": [
   {"data": {"values": [{"b":11.5},{"b":23.5},{"b":35.5},{"b":47.5},{"b":59.5}]}, "mark": {"type": "rule", "color": "#7aa6b3", "strokeDash": [4, 3]}, "encoding": {"x": {"field": "b", "type": "quantitative", "scale": {"domain": [-2.6, 69.8], "nice": false, "zero": false}, "axis": null}}},
   {"data": {"values": [{}]}, "mark": {"type": "rule", "color": "#999999", "strokeDash": [1.5, 2]}, "encoding": {"y": {"datum": 0, "type": "quantitative", "axis": null}}},
   {"data": {"name": "pE"}, "mark": {"type": "line", "color": "#bdbdbd", "strokeWidth": 1, "clip": true}, "encoding": {"x": {"field": "i", "type": "quantitative", "axis": {"orient": "top", "labels": false, "ticks": false, "domain": false, "title": "E. Highland fringe west", "titleFontSize": 14, "titleFontWeight": "bold", "titleX": 138.5, "titleY": -25, "titleAlign": "center", "titleBaseline": "alphabetic"}}, "y": {"field": "v", "type": "quantitative", "axis": null}, "detail": {"field": "g"}}},
   {"data": {"name": "pE"}, "mark": {"type": "point", "shape": "circle", "clip": true, "stroke": "#5A9A1E", "strokeWidth": 1, "opacity": 1},
    "encoding": {
     "x": {"field": "i", "type": "quantitative", "scale": {"domain": [-2.6, 69.8], "nice": false, "zero": false}, "axis": {"orient": "bottom", "values": [0,1,2,3,4,5,6,7,8,9,10,11,12,13,14,15,16,17,18,19,20,21,22,23,24,25,26,27,28,29,30,31,32,33,34,35,36,37,38,39,40,41,42,43,44,45,46,47,48,49,50,51,52,53,54,55,56,57,58,59,60,61,62,63,64,65,66,67,68,69], "labelExpr": "indexof([0,4,9,13,17,21,25,29,33,37,41,45,49,53,57,61,65,69], datum.value) >= 0 ? substring('JFMAMJJASOND', datum.value % 12, datum.value % 12 + 1) : ''", "tickSize": 6, "labelFontSize": 9.5, "labelPadding": 8, "labelOverlap": false, "labelFlush": false, "labelAngle": 0, "title": null}},
     "y": {"field": "v", "type": "quantitative", "scale": {"domain": [-0.25, 6.5], "nice": false, "zero": false}, "axis": {"orient": "left", "values": [0, 1, 2, 3, 4, 5, 6], "labelExpr": "datum.value % 2 == 0 ? datum.label : ''", "labelAngle": -90, "labelFontSize": 10, "tickSize": 6, "labelPadding": 8, "title": null}},
     "fill": {"field": "g", "type": "nominal", "scale": {"domain": ["k", "o"], "range": ["#5A9A1E", "transparent"]}, "legend": {"orient": "top-left", "offset": 0, "title": null, "labelExpr": "datum.label == 'k' ? '0-5 yrs' : '> 5 yrs'", "strokeColor": "#333", "fillColor": "white", "padding": 5, "labelFontSize": 9.5, "symbolSize": 32, "symbolType": "circle", "symbolStrokeColor": "#5A9A1E", "symbolStrokeWidth": 1, "rowPadding": 2.5}},
     "size": {"field": "g", "type": "ordinal", "scale": {"domain": ["o", "k"], "range": [50, 28]}, "legend": null}}}
  ]},
 {"width": 279, "height": 86, "resolve": {"axis": {"x": "independent", "y": "independent"}},
  "layer": [
   {"data": {"values": [{"b":11.5},{"b":23.5},{"b":35.5},{"b":47.5},{"b":59.5}]}, "mark": {"type": "rule", "color": "#7aa6b3", "strokeDash": [4, 3]}, "encoding": {"x": {"field": "b", "type": "quantitative", "scale": {"domain": [-2.6, 69.8], "nice": false, "zero": false}, "axis": null}}},
   {"data": {"values": [{}]}, "mark": {"type": "rule", "color": "#999999", "strokeDash": [1.5, 2]}, "encoding": {"y": {"datum": 0, "type": "quantitative", "axis": null}}},
   {"data": {"name": "pF"}, "mark": {"type": "line", "color": "#bdbdbd", "strokeWidth": 1, "clip": true}, "encoding": {"x": {"field": "i", "type": "quantitative", "axis": {"orient": "top", "labels": false, "ticks": false, "domain": false, "title": "F. Highland fringe east", "titleFontSize": 14, "titleFontWeight": "bold", "titleX": 139.5, "titleY": -25, "titleAlign": "center", "titleBaseline": "alphabetic"}}, "y": {"field": "v", "type": "quantitative", "axis": null}, "detail": {"field": "g"}}},
   {"data": {"name": "pF"}, "mark": {"type": "point", "shape": "circle", "clip": true, "stroke": "#7CC4A0", "strokeWidth": 1, "opacity": 1},
    "encoding": {
     "x": {"field": "i", "type": "quantitative", "scale": {"domain": [-2.6, 69.8], "nice": false, "zero": false}, "axis": {"orient": "bottom", "values": [0,1,2,3,4,5,6,7,8,9,10,11,12,13,14,15,16,17,18,19,20,21,22,23,24,25,26,27,28,29,30,31,32,33,34,35,36,37,38,39,40,41,42,43,44,45,46,47,48,49,50,51,52,53,54,55,56,57,58,59,60,61,62,63,64,65,66,67,68,69], "labelExpr": "indexof([0,4,9,13,17,21,25,29,33,37,41,45,49,53,57,61,65,69], datum.value) >= 0 ? substring('JFMAMJJASOND', datum.value % 12, datum.value % 12 + 1) : ''", "tickSize": 6, "labelFontSize": 9.5, "labelPadding": 8, "labelOverlap": false, "labelFlush": false, "labelAngle": 0, "title": null}},
     "y": {"field": "v", "type": "quantitative", "scale": {"domain": [-0.05, 1.4], "nice": false, "zero": false}, "axis": {"orient": "left", "values": [0, 0.2, 0.4, 0.6, 0.8, 1.0, 1.2, 1.4], "format": ".1f", "labelExpr": "datum.value == 0 || datum.value == 0.6 || datum.value == 1.2 ? datum.label : ''", "labelAngle": -90, "labelFontSize": 10, "tickSize": 6, "labelPadding": 8, "title": null}},
     "fill": {"field": "g", "type": "nominal", "scale": {"domain": ["k", "o"], "range": ["#7CC4A0", "transparent"]}, "legend": {"orient": "top-left", "offset": 0, "title": null, "labelExpr": "datum.label == 'k' ? '0-5 yrs' : '> 5 yrs'", "strokeColor": "#333", "fillColor": "white", "padding": 5, "labelFontSize": 9.5, "symbolSize": 32, "symbolType": "circle", "symbolStrokeColor": "#7CC4A0", "symbolStrokeWidth": 1, "rowPadding": 2.5}},
     "size": {"field": "g", "type": "ordinal", "scale": {"domain": ["o", "k"], "range": [50, 28]}, "legend": null}}}
  ]},
 {"width": 277, "height": 86, "resolve": {"axis": {"x": "independent", "y": "independent"}},
  "layer": [
   {"data": {"values": [{"b":11.5},{"b":23.5},{"b":35.5},{"b":47.5},{"b":59.5}]}, "mark": {"type": "rule", "color": "#7aa6b3", "strokeDash": [4, 3]}, "encoding": {"x": {"field": "b", "type": "quantitative", "scale": {"domain": [-2.6, 69.8], "nice": false, "zero": false}, "axis": {"orient": "bottom", "values": [5.5, 17.5, 29.5, 41.5, 53.5, 65.5], "labelExpr": "'' + (2010 + floor(datum.value / 12))", "ticks": false, "tickSize": 0, "labelPadding": 44, "labelFontSize": 12, "labelOverlap": false, "labelFlush": false, "title": null}}}},
   {"data": {"values": [{}]}, "mark": {"type": "rule", "color": "#999999", "strokeDash": [1.5, 2]}, "encoding": {"y": {"datum": 0, "type": "quantitative", "axis": null}}},
   {"data": {"name": "pG"}, "mark": {"type": "line", "color": "#bdbdbd", "strokeWidth": 1, "clip": true}, "encoding": {"x": {"field": "i", "type": "quantitative", "axis": {"orient": "top", "labels": false, "ticks": false, "domain": false, "title": "G. South", "titleFontSize": 14, "titleFontWeight": "bold", "titleX": 138.5, "titleY": -25, "titleAlign": "center", "titleBaseline": "alphabetic"}}, "y": {"field": "v", "type": "quantitative", "axis": null}, "detail": {"field": "g"}}},
   {"data": {"name": "pG"}, "mark": {"type": "point", "shape": "circle", "clip": true, "stroke": "#B5D233", "strokeWidth": 1, "opacity": 1},
    "encoding": {
     "x": {"field": "i", "type": "quantitative", "scale": {"domain": [-2.6, 69.8], "nice": false, "zero": false}, "axis": {"orient": "bottom", "values": [0,1,2,3,4,5,6,7,8,9,10,11,12,13,14,15,16,17,18,19,20,21,22,23,24,25,26,27,28,29,30,31,32,33,34,35,36,37,38,39,40,41,42,43,44,45,46,47,48,49,50,51,52,53,54,55,56,57,58,59,60,61,62,63,64,65,66,67,68,69], "labelExpr": "indexof([0,4,9,13,17,21,25,29,33,37,41,45,49,53,57,61,65,69], datum.value) >= 0 ? substring('JFMAMJJASOND', datum.value % 12, datum.value % 12 + 1) : ''", "tickSize": 6, "labelFontSize": 9.5, "labelPadding": 8, "labelOverlap": false, "labelFlush": false, "labelAngle": 0, "title": null}},
     "y": {"field": "v", "type": "quantitative", "scale": {"domain": [-0.27, 7.1], "nice": false, "zero": false}, "axis": {"orient": "left", "values": [0, 2, 4, 6], "labelAngle": -90, "labelFontSize": 10, "tickSize": 6, "labelPadding": 8, "title": null}},
     "fill": {"field": "g", "type": "nominal", "scale": {"domain": ["k", "o"], "range": ["#B5D233", "transparent"]}, "legend": {"orient": "top-left", "offset": 0, "title": null, "labelExpr": "datum.label == 'k' ? '0-5 yrs' : '> 5 yrs'", "strokeColor": "#333", "fillColor": "white", "padding": 5, "labelFontSize": 9.5, "symbolSize": 32, "symbolType": "circle", "symbolStrokeColor": "#B5D233", "symbolStrokeWidth": 1, "rowPadding": 2.5}},
     "size": {"field": "g", "type": "ordinal", "scale": {"domain": ["o", "k"], "range": [50, 28]}, "legend": null}}}
  ]},
 {"width": 279, "height": 86, "resolve": {"axis": {"x": "independent", "y": "independent"}},
  "layer": [
   {"data": {"values": [{"b":11.5},{"b":23.5},{"b":35.5},{"b":47.5},{"b":59.5}]}, "mark": {"type": "rule", "color": "#7aa6b3", "strokeDash": [4, 3]}, "encoding": {"x": {"field": "b", "type": "quantitative", "scale": {"domain": [-2.6, 69.8], "nice": false, "zero": false}, "axis": {"orient": "bottom", "values": [5.5, 17.5, 29.5, 41.5, 53.5, 65.5], "labelExpr": "'' + (2010 + floor(datum.value / 12))", "ticks": false, "tickSize": 0, "labelPadding": 44, "labelFontSize": 12, "labelOverlap": false, "labelFlush": false, "title": null}}}},
   {"data": {"values": [{}]}, "mark": {"type": "rule", "color": "#999999", "strokeDash": [1.5, 2]}, "encoding": {"y": {"datum": 0, "type": "quantitative", "axis": null}}},
   {"data": {"name": "pH"}, "mark": {"type": "line", "color": "#bdbdbd", "strokeWidth": 1, "clip": true}, "encoding": {"x": {"field": "i", "type": "quantitative", "axis": {"orient": "top", "labels": false, "ticks": false, "domain": false, "title": "H. Central highlands", "titleFontSize": 14, "titleFontWeight": "bold", "titleX": 139.5, "titleY": -25, "titleAlign": "center", "titleBaseline": "alphabetic"}}, "y": {"field": "v", "type": "quantitative", "axis": null}, "detail": {"field": "g"}}},
   {"data": {"name": "pH"}, "mark": {"type": "point", "shape": "circle", "clip": true, "stroke": "#2D4592", "strokeWidth": 1, "opacity": 1},
    "encoding": {
     "x": {"field": "i", "type": "quantitative", "scale": {"domain": [-2.6, 69.8], "nice": false, "zero": false}, "axis": {"orient": "bottom", "values": [0,1,2,3,4,5,6,7,8,9,10,11,12,13,14,15,16,17,18,19,20,21,22,23,24,25,26,27,28,29,30,31,32,33,34,35,36,37,38,39,40,41,42,43,44,45,46,47,48,49,50,51,52,53,54,55,56,57,58,59,60,61,62,63,64,65,66,67,68,69], "labelExpr": "indexof([0,4,9,13,17,21,25,29,33,37,41,45,49,53,57,61,65,69], datum.value) >= 0 ? substring('JFMAMJJASOND', datum.value % 12, datum.value % 12 + 1) : ''", "tickSize": 6, "labelFontSize": 9.5, "labelPadding": 8, "labelOverlap": false, "labelFlush": false, "labelAngle": 0, "title": null}},
     "y": {"field": "v", "type": "quantitative", "scale": {"domain": [-0.055, 1.44], "nice": false, "zero": false}, "axis": {"orient": "left", "values": [0, 0.2, 0.4, 0.6, 0.8, 1.0, 1.2, 1.4], "format": ".1f", "labelExpr": "datum.value == 0 || datum.value == 0.6 || datum.value == 1.2 ? datum.label : ''", "labelAngle": -90, "labelFontSize": 10, "tickSize": 6, "labelPadding": 8, "title": null}},
     "fill": {"field": "g", "type": "nominal", "scale": {"domain": ["k", "o"], "range": ["#2D4592", "transparent"]}, "legend": {"orient": "top-left", "offset": 0, "title": null, "labelExpr": "datum.label == 'k' ? '0-5 yrs' : '> 5 yrs'", "strokeColor": "#333", "fillColor": "white", "padding": 5, "labelFontSize": 9.5, "symbolSize": 32, "symbolType": "circle", "symbolStrokeColor": "#2D4592", "symbolStrokeWidth": 1, "rowPadding": 2.5}},
     "size": {"field": "g", "type": "ordinal", "scale": {"domain": ["o", "k"], "range": [50, 28]}, "legend": null}}}
  ]}
 ]
}
]
}
